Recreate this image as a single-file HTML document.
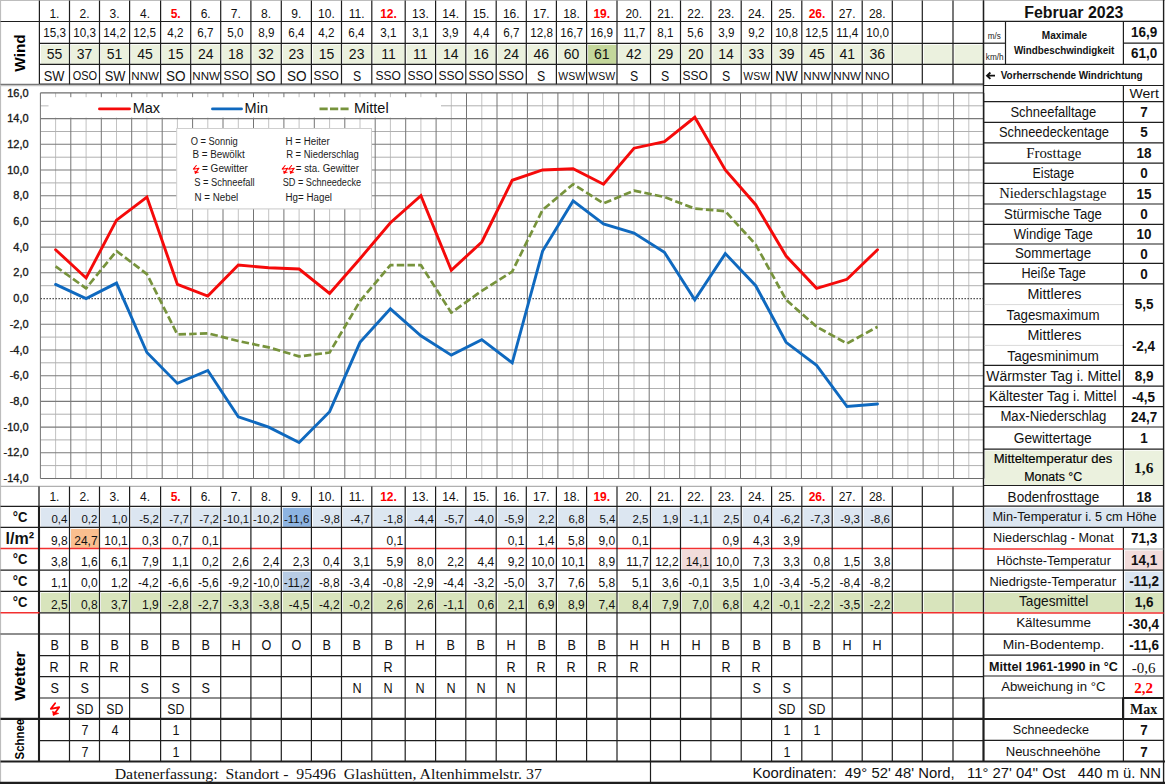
<!DOCTYPE html>
<html lang="de"><head><meta charset="utf-8"><title>Wetter Februar 2023</title>
<style>
html,body{margin:0;padding:0;background:#fff;}
#pg{position:relative;width:1165px;height:784px;overflow:hidden;background:#fff;font-family:"Liberation Sans",sans-serif;}
#pg svg{position:absolute;left:0;top:0;}
.t{position:absolute;white-space:nowrap;overflow:visible;margin:0;padding:0;}
</style></head><body>
<div id="pg">
<svg width="1165" height="784" viewBox="0 0 1165 784">
<rect x="40.9" y="44.8" width="28.1" height="19.1" fill="#ebf1de"/>
<rect x="71.0" y="44.8" width="28.0" height="19.1" fill="#ebf1de"/>
<rect x="101.0" y="44.8" width="28.1" height="19.1" fill="#ebf1de"/>
<rect x="131.1" y="44.8" width="29.0" height="19.1" fill="#ebf1de"/>
<rect x="162.1" y="44.8" width="28.1" height="19.1" fill="#ebf1de"/>
<rect x="192.2" y="44.8" width="28.0" height="19.1" fill="#ebf1de"/>
<rect x="222.2" y="44.8" width="28.2" height="19.1" fill="#ebf1de"/>
<rect x="252.4" y="44.8" width="28.4" height="19.1" fill="#ebf1de"/>
<rect x="282.8" y="44.8" width="28.1" height="19.1" fill="#ebf1de"/>
<rect x="312.9" y="44.8" width="28.1" height="19.1" fill="#ebf1de"/>
<rect x="343.0" y="44.8" width="28.3" height="19.1" fill="#ebf1de"/>
<rect x="373.3" y="44.8" width="31.4" height="19.1" fill="#ebf1de"/>
<rect x="406.7" y="44.8" width="28.4" height="19.1" fill="#ebf1de"/>
<rect x="437.1" y="44.8" width="28.2" height="19.1" fill="#ebf1de"/>
<rect x="467.3" y="44.8" width="28.4" height="19.1" fill="#ebf1de"/>
<rect x="497.7" y="44.8" width="28.1" height="19.1" fill="#ebf1de"/>
<rect x="527.8" y="44.8" width="28.1" height="19.1" fill="#ebf1de"/>
<rect x="557.9" y="44.8" width="28.2" height="19.1" fill="#ebf1de"/>
<rect x="588.1" y="44.8" width="28.4" height="19.1" fill="#c4d79b"/>
<rect x="618.5" y="44.8" width="31.5" height="19.1" fill="#ebf1de"/>
<rect x="652.0" y="44.8" width="28.0" height="19.1" fill="#ebf1de"/>
<rect x="682.0" y="44.8" width="28.4" height="19.1" fill="#ebf1de"/>
<rect x="712.4" y="44.8" width="28.3" height="19.1" fill="#ebf1de"/>
<rect x="742.7" y="44.8" width="28.4" height="19.1" fill="#ebf1de"/>
<rect x="773.1" y="44.8" width="28.2" height="19.1" fill="#ebf1de"/>
<rect x="803.3" y="44.8" width="28.4" height="19.1" fill="#ebf1de"/>
<rect x="833.7" y="44.8" width="28.0" height="19.1" fill="#ebf1de"/>
<rect x="863.7" y="44.8" width="28.1" height="19.1" fill="#ebf1de"/>
<rect x="893.8" y="44.8" width="28.0" height="19.1" fill="#ebf1de"/>
<rect x="923.8" y="44.8" width="28.7" height="19.1" fill="#ebf1de"/>
<rect x="954.5" y="44.8" width="28.5" height="19.1" fill="#ebf1de"/>
<line x1="0.0" y1="0.5" x2="1165.0" y2="0.5" stroke="#bdbdbd" stroke-width="1" />
<line x1="0.5" y1="0.0" x2="0.5" y2="784.0" stroke="#bdbdbd" stroke-width="1.2" />
<line x1="39.4" y1="0.5" x2="39.4" y2="84.3" stroke="#1e1e1e" stroke-width="1.2" />
<line x1="69.5" y1="0.5" x2="69.5" y2="84.3" stroke="#1e1e1e" stroke-width="1.2" />
<line x1="99.5" y1="0.5" x2="99.5" y2="84.3" stroke="#1e1e1e" stroke-width="1.2" />
<line x1="129.6" y1="0.5" x2="129.6" y2="84.3" stroke="#1e1e1e" stroke-width="1.2" />
<line x1="160.6" y1="0.5" x2="160.6" y2="84.3" stroke="#1e1e1e" stroke-width="1.2" />
<line x1="190.7" y1="0.5" x2="190.7" y2="84.3" stroke="#1e1e1e" stroke-width="1.2" />
<line x1="220.7" y1="0.5" x2="220.7" y2="84.3" stroke="#1e1e1e" stroke-width="1.2" />
<line x1="250.9" y1="0.5" x2="250.9" y2="84.3" stroke="#1e1e1e" stroke-width="1.2" />
<line x1="281.3" y1="0.5" x2="281.3" y2="84.3" stroke="#1e1e1e" stroke-width="1.2" />
<line x1="311.4" y1="0.5" x2="311.4" y2="84.3" stroke="#1e1e1e" stroke-width="1.2" />
<line x1="341.5" y1="0.5" x2="341.5" y2="84.3" stroke="#1e1e1e" stroke-width="1.2" />
<line x1="371.8" y1="0.5" x2="371.8" y2="84.3" stroke="#1e1e1e" stroke-width="1.2" />
<line x1="405.2" y1="0.5" x2="405.2" y2="84.3" stroke="#1e1e1e" stroke-width="1.2" />
<line x1="435.6" y1="0.5" x2="435.6" y2="84.3" stroke="#1e1e1e" stroke-width="1.2" />
<line x1="465.8" y1="0.5" x2="465.8" y2="84.3" stroke="#1e1e1e" stroke-width="1.2" />
<line x1="496.2" y1="0.5" x2="496.2" y2="84.3" stroke="#1e1e1e" stroke-width="1.2" />
<line x1="526.3" y1="0.5" x2="526.3" y2="84.3" stroke="#1e1e1e" stroke-width="1.2" />
<line x1="556.4" y1="0.5" x2="556.4" y2="84.3" stroke="#1e1e1e" stroke-width="1.2" />
<line x1="586.6" y1="0.5" x2="586.6" y2="84.3" stroke="#1e1e1e" stroke-width="1.2" />
<line x1="617.0" y1="0.5" x2="617.0" y2="84.3" stroke="#1e1e1e" stroke-width="1.2" />
<line x1="650.5" y1="0.5" x2="650.5" y2="84.3" stroke="#1e1e1e" stroke-width="1.2" />
<line x1="680.5" y1="0.5" x2="680.5" y2="84.3" stroke="#1e1e1e" stroke-width="1.2" />
<line x1="710.9" y1="0.5" x2="710.9" y2="84.3" stroke="#1e1e1e" stroke-width="1.2" />
<line x1="741.2" y1="0.5" x2="741.2" y2="84.3" stroke="#1e1e1e" stroke-width="1.2" />
<line x1="771.6" y1="0.5" x2="771.6" y2="84.3" stroke="#1e1e1e" stroke-width="1.2" />
<line x1="801.8" y1="0.5" x2="801.8" y2="84.3" stroke="#1e1e1e" stroke-width="1.2" />
<line x1="832.2" y1="0.5" x2="832.2" y2="84.3" stroke="#1e1e1e" stroke-width="1.2" />
<line x1="862.2" y1="0.5" x2="862.2" y2="84.3" stroke="#1e1e1e" stroke-width="1.2" />
<line x1="892.3" y1="0.5" x2="892.3" y2="84.3" stroke="#1e1e1e" stroke-width="1.2" />
<line x1="922.3" y1="0.5" x2="922.3" y2="84.3" stroke="#1e1e1e" stroke-width="1.2" />
<line x1="953.0" y1="0.5" x2="953.0" y2="84.3" stroke="#1e1e1e" stroke-width="1.2" />
<line x1="983.5" y1="0.5" x2="983.5" y2="84.3" stroke="#1e1e1e" stroke-width="1.2" />
<line x1="0.5" y1="21.5" x2="983.5" y2="21.5" stroke="#1e1e1e" stroke-width="1.2" />
<line x1="39.4" y1="43.3" x2="983.5" y2="43.3" stroke="#1e1e1e" stroke-width="1.2" />
<line x1="39.4" y1="64.4" x2="983.5" y2="64.4" stroke="#1e1e1e" stroke-width="1.2" />
<line x1="39.4" y1="84.2" x2="983.5" y2="84.2" stroke="#333" stroke-width="1.2" />
<line x1="0.5" y1="84.3" x2="39.4" y2="84.3" stroke="#777" stroke-width="1.2" />
<line x1="0.5" y1="85.6" x2="983.5" y2="85.6" stroke="#c4c4c4" stroke-width="1.1" />
<line x1="55.6" y1="92.9" x2="55.6" y2="478.5" stroke="#c2c2c2" stroke-width="1.0" />
<line x1="86.1" y1="92.9" x2="86.1" y2="478.5" stroke="#c2c2c2" stroke-width="1.0" />
<line x1="116.5" y1="92.9" x2="116.5" y2="478.5" stroke="#c2c2c2" stroke-width="1.0" />
<line x1="146.9" y1="92.9" x2="146.9" y2="478.5" stroke="#c2c2c2" stroke-width="1.0" />
<line x1="177.4" y1="92.9" x2="177.4" y2="478.5" stroke="#c2c2c2" stroke-width="1.0" />
<line x1="207.8" y1="92.9" x2="207.8" y2="478.5" stroke="#c2c2c2" stroke-width="1.0" />
<line x1="238.3" y1="92.9" x2="238.3" y2="478.5" stroke="#c2c2c2" stroke-width="1.0" />
<line x1="268.7" y1="92.9" x2="268.7" y2="478.5" stroke="#c2c2c2" stroke-width="1.0" />
<line x1="299.1" y1="92.9" x2="299.1" y2="478.5" stroke="#c2c2c2" stroke-width="1.0" />
<line x1="329.6" y1="92.9" x2="329.6" y2="478.5" stroke="#c2c2c2" stroke-width="1.0" />
<line x1="360.0" y1="92.9" x2="360.0" y2="478.5" stroke="#c2c2c2" stroke-width="1.0" />
<line x1="390.4" y1="92.9" x2="390.4" y2="478.5" stroke="#c2c2c2" stroke-width="1.0" />
<line x1="420.9" y1="92.9" x2="420.9" y2="478.5" stroke="#c2c2c2" stroke-width="1.0" />
<line x1="451.3" y1="92.9" x2="451.3" y2="478.5" stroke="#c2c2c2" stroke-width="1.0" />
<line x1="481.8" y1="92.9" x2="481.8" y2="478.5" stroke="#c2c2c2" stroke-width="1.0" />
<line x1="512.2" y1="92.9" x2="512.2" y2="478.5" stroke="#c2c2c2" stroke-width="1.0" />
<line x1="542.6" y1="92.9" x2="542.6" y2="478.5" stroke="#c2c2c2" stroke-width="1.0" />
<line x1="573.1" y1="92.9" x2="573.1" y2="478.5" stroke="#c2c2c2" stroke-width="1.0" />
<line x1="603.5" y1="92.9" x2="603.5" y2="478.5" stroke="#c2c2c2" stroke-width="1.0" />
<line x1="634.0" y1="92.9" x2="634.0" y2="478.5" stroke="#c2c2c2" stroke-width="1.0" />
<line x1="664.4" y1="92.9" x2="664.4" y2="478.5" stroke="#c2c2c2" stroke-width="1.0" />
<line x1="694.8" y1="92.9" x2="694.8" y2="478.5" stroke="#c2c2c2" stroke-width="1.0" />
<line x1="725.3" y1="92.9" x2="725.3" y2="478.5" stroke="#c2c2c2" stroke-width="1.0" />
<line x1="755.7" y1="92.9" x2="755.7" y2="478.5" stroke="#c2c2c2" stroke-width="1.0" />
<line x1="786.1" y1="92.9" x2="786.1" y2="478.5" stroke="#c2c2c2" stroke-width="1.0" />
<line x1="816.6" y1="92.9" x2="816.6" y2="478.5" stroke="#c2c2c2" stroke-width="1.0" />
<line x1="847.0" y1="92.9" x2="847.0" y2="478.5" stroke="#c2c2c2" stroke-width="1.0" />
<line x1="877.5" y1="92.9" x2="877.5" y2="478.5" stroke="#c2c2c2" stroke-width="1.0" />
<line x1="907.9" y1="92.9" x2="907.9" y2="478.5" stroke="#c2c2c2" stroke-width="1.0" />
<line x1="938.3" y1="92.9" x2="938.3" y2="478.5" stroke="#c2c2c2" stroke-width="1.0" />
<line x1="968.8" y1="92.9" x2="968.8" y2="478.5" stroke="#c2c2c2" stroke-width="1.0" />
<line x1="40.4" y1="105.8" x2="984.0" y2="105.8" stroke="#b0b0b0" stroke-width="1.0" />
<line x1="40.4" y1="131.5" x2="984.0" y2="131.5" stroke="#b0b0b0" stroke-width="1.0" />
<line x1="40.4" y1="157.2" x2="984.0" y2="157.2" stroke="#b0b0b0" stroke-width="1.0" />
<line x1="40.4" y1="182.9" x2="984.0" y2="182.9" stroke="#b0b0b0" stroke-width="1.0" />
<line x1="40.4" y1="208.6" x2="984.0" y2="208.6" stroke="#b0b0b0" stroke-width="1.0" />
<line x1="40.4" y1="234.3" x2="984.0" y2="234.3" stroke="#b0b0b0" stroke-width="1.0" />
<line x1="40.4" y1="260.0" x2="984.0" y2="260.0" stroke="#b0b0b0" stroke-width="1.0" />
<line x1="40.4" y1="285.7" x2="984.0" y2="285.7" stroke="#b0b0b0" stroke-width="1.0" />
<line x1="40.4" y1="311.4" x2="984.0" y2="311.4" stroke="#b0b0b0" stroke-width="1.0" />
<line x1="40.4" y1="337.1" x2="984.0" y2="337.1" stroke="#b0b0b0" stroke-width="1.0" />
<line x1="40.4" y1="362.8" x2="984.0" y2="362.8" stroke="#b0b0b0" stroke-width="1.0" />
<line x1="40.4" y1="388.5" x2="984.0" y2="388.5" stroke="#b0b0b0" stroke-width="1.0" />
<line x1="40.4" y1="414.2" x2="984.0" y2="414.2" stroke="#b0b0b0" stroke-width="1.0" />
<line x1="40.4" y1="439.9" x2="984.0" y2="439.9" stroke="#b0b0b0" stroke-width="1.0" />
<line x1="40.4" y1="465.6" x2="984.0" y2="465.6" stroke="#b0b0b0" stroke-width="1.0" />
<line x1="40.4" y1="92.9" x2="40.4" y2="478.5" stroke="#747474" stroke-width="1.0" />
<line x1="70.8" y1="92.9" x2="70.8" y2="478.5" stroke="#747474" stroke-width="1.0" />
<line x1="101.3" y1="92.9" x2="101.3" y2="478.5" stroke="#747474" stroke-width="1.0" />
<line x1="131.7" y1="92.9" x2="131.7" y2="478.5" stroke="#747474" stroke-width="1.0" />
<line x1="162.2" y1="92.9" x2="162.2" y2="478.5" stroke="#747474" stroke-width="1.0" />
<line x1="192.6" y1="92.9" x2="192.6" y2="478.5" stroke="#747474" stroke-width="1.0" />
<line x1="223.0" y1="92.9" x2="223.0" y2="478.5" stroke="#747474" stroke-width="1.0" />
<line x1="253.5" y1="92.9" x2="253.5" y2="478.5" stroke="#747474" stroke-width="1.0" />
<line x1="283.9" y1="92.9" x2="283.9" y2="478.5" stroke="#747474" stroke-width="1.0" />
<line x1="314.3" y1="92.9" x2="314.3" y2="478.5" stroke="#747474" stroke-width="1.0" />
<line x1="344.8" y1="92.9" x2="344.8" y2="478.5" stroke="#747474" stroke-width="1.0" />
<line x1="375.2" y1="92.9" x2="375.2" y2="478.5" stroke="#747474" stroke-width="1.0" />
<line x1="405.7" y1="92.9" x2="405.7" y2="478.5" stroke="#747474" stroke-width="1.0" />
<line x1="436.1" y1="92.9" x2="436.1" y2="478.5" stroke="#747474" stroke-width="1.0" />
<line x1="466.5" y1="92.9" x2="466.5" y2="478.5" stroke="#747474" stroke-width="1.0" />
<line x1="497.0" y1="92.9" x2="497.0" y2="478.5" stroke="#747474" stroke-width="1.0" />
<line x1="527.4" y1="92.9" x2="527.4" y2="478.5" stroke="#747474" stroke-width="1.0" />
<line x1="557.9" y1="92.9" x2="557.9" y2="478.5" stroke="#747474" stroke-width="1.0" />
<line x1="588.3" y1="92.9" x2="588.3" y2="478.5" stroke="#747474" stroke-width="1.0" />
<line x1="618.7" y1="92.9" x2="618.7" y2="478.5" stroke="#747474" stroke-width="1.0" />
<line x1="649.2" y1="92.9" x2="649.2" y2="478.5" stroke="#747474" stroke-width="1.0" />
<line x1="679.6" y1="92.9" x2="679.6" y2="478.5" stroke="#747474" stroke-width="1.0" />
<line x1="710.1" y1="92.9" x2="710.1" y2="478.5" stroke="#747474" stroke-width="1.0" />
<line x1="740.5" y1="92.9" x2="740.5" y2="478.5" stroke="#747474" stroke-width="1.0" />
<line x1="770.9" y1="92.9" x2="770.9" y2="478.5" stroke="#747474" stroke-width="1.0" />
<line x1="801.4" y1="92.9" x2="801.4" y2="478.5" stroke="#747474" stroke-width="1.0" />
<line x1="831.8" y1="92.9" x2="831.8" y2="478.5" stroke="#747474" stroke-width="1.0" />
<line x1="862.2" y1="92.9" x2="862.2" y2="478.5" stroke="#747474" stroke-width="1.0" />
<line x1="892.7" y1="92.9" x2="892.7" y2="478.5" stroke="#747474" stroke-width="1.0" />
<line x1="923.1" y1="92.9" x2="923.1" y2="478.5" stroke="#747474" stroke-width="1.0" />
<line x1="953.6" y1="92.9" x2="953.6" y2="478.5" stroke="#747474" stroke-width="1.0" />
<line x1="984.0" y1="92.9" x2="984.0" y2="478.5" stroke="#747474" stroke-width="1.0" />
<line x1="40.4" y1="92.9" x2="984.0" y2="92.9" stroke="#6e6e6e" stroke-width="1.1" />
<line x1="40.4" y1="118.6" x2="984.0" y2="118.6" stroke="#7a7a7a" stroke-width="1.1" />
<line x1="40.4" y1="144.3" x2="984.0" y2="144.3" stroke="#7a7a7a" stroke-width="1.1" />
<line x1="40.4" y1="170.0" x2="984.0" y2="170.0" stroke="#7a7a7a" stroke-width="1.1" />
<line x1="40.4" y1="195.7" x2="984.0" y2="195.7" stroke="#7a7a7a" stroke-width="1.1" />
<line x1="40.4" y1="221.4" x2="984.0" y2="221.4" stroke="#7a7a7a" stroke-width="1.1" />
<line x1="40.4" y1="247.1" x2="984.0" y2="247.1" stroke="#7a7a7a" stroke-width="1.1" />
<line x1="40.4" y1="272.8" x2="984.0" y2="272.8" stroke="#7a7a7a" stroke-width="1.1" />
<line x1="40.4" y1="324.3" x2="984.0" y2="324.3" stroke="#7a7a7a" stroke-width="1.1" />
<line x1="40.4" y1="350.0" x2="984.0" y2="350.0" stroke="#7a7a7a" stroke-width="1.1" />
<line x1="40.4" y1="375.7" x2="984.0" y2="375.7" stroke="#7a7a7a" stroke-width="1.1" />
<line x1="40.4" y1="401.4" x2="984.0" y2="401.4" stroke="#7a7a7a" stroke-width="1.1" />
<line x1="40.4" y1="427.1" x2="984.0" y2="427.1" stroke="#7a7a7a" stroke-width="1.1" />
<line x1="40.4" y1="452.8" x2="984.0" y2="452.8" stroke="#7a7a7a" stroke-width="1.1" />
<line x1="40.4" y1="478.5" x2="984.0" y2="478.5" stroke="#6e6e6e" stroke-width="1.1" />
<line x1="40.4" y1="298.6" x2="984.0" y2="298.6" stroke="#555" stroke-width="1.1" stroke-dasharray="1.6 1.4"/>
<rect x="48.5" y="97.2" width="392.5" height="20.4" fill="#fff"/>
<rect x="41.2" y="97.2" width="7.8" height="8.0" fill="#fff"/>
<rect x="41.2" y="107.0" width="7.8" height="10.6" fill="#fff"/>
<rect x="176.7" y="128.5" width="194.8" height="80.4" fill="#fff" stroke="#cfcfcf" stroke-width="1"/>
<polyline points="55.6,266.4 86.1,288.3 116.5,251.0 146.9,274.1 177.4,334.5 207.8,333.3 238.3,341.0 268.7,347.4 299.1,356.4 329.6,352.5 360.0,301.1 390.4,265.1 420.9,265.1 451.3,312.7 481.8,290.8 512.2,271.6 542.6,209.9 573.1,184.2 603.5,203.4 634.0,190.6 664.4,197.0 694.8,208.6 725.3,211.2 755.7,244.6 786.1,299.8 816.6,326.8 847.0,343.5 877.5,326.8" fill="none" stroke="#77933c" stroke-width="2.7" stroke-dasharray="7.5 3.2" stroke-linejoin="round"/>
<polyline points="55.6,284.4 86.1,298.6 116.5,283.1 146.9,352.5 177.4,383.4 207.8,370.5 238.3,416.8 268.7,427.1 299.1,442.5 329.6,411.7 360.0,342.3 390.4,308.8 420.9,335.8 451.3,355.1 481.8,339.7 512.2,362.8 542.6,251.0 573.1,200.9 603.5,224.0 634.0,233.0 664.4,252.3 694.8,299.8 725.3,253.6 755.7,285.7 786.1,342.3 816.6,365.4 847.0,406.5 877.5,404.0" fill="none" stroke="#0f69bf" stroke-width="2.9" stroke-linejoin="miter" stroke-miterlimit="3" stroke-linecap="round" />
<polyline points="55.6,249.7 86.1,278.0 116.5,220.1 146.9,197.0 177.4,284.4 207.8,296.0 238.3,265.1 268.7,267.7 299.1,269.0 329.6,293.4 360.0,258.7 390.4,222.7 420.9,195.7 451.3,270.3 481.8,242.0 512.2,180.3 542.6,170.0 573.1,168.7 603.5,184.2 634.0,148.2 664.4,141.7 694.8,117.3 725.3,170.0 755.7,204.7 786.1,256.1 816.6,288.3 847.0,279.3 877.5,249.7" fill="none" stroke="#f50a0a" stroke-width="2.9" stroke-linejoin="miter" stroke-miterlimit="3" stroke-linecap="round" />
<line x1="99.5" y1="108.9" x2="129.5" y2="108.9" stroke="#f50a0a" stroke-width="2.9" stroke-linecap="round"/>
<line x1="212.5" y1="108.9" x2="241.5" y2="108.9" stroke="#0f69bf" stroke-width="2.9" stroke-linecap="round"/>
<line x1="319.5" y1="108.9" x2="348.6" y2="108.9" stroke="#77933c" stroke-width="2.7" stroke-dasharray="8.2 2.3"/>
<path d="M196.29,165.46 L193.41,169.18 L198.99,168.16 L195.27,173.20" fill="none" stroke="#f00" stroke-width="1.05" stroke-linejoin="round" stroke-linecap="round"/>
<path d="M194.43,170.86 L195.15,173.44 L198.75,172.30Z" fill="#f00" stroke="#f00" stroke-width="0.36" stroke-linejoin="round"/>
<path d="M285.09,165.46 L282.21,169.18 L287.79,168.16 L284.07,173.20" fill="none" stroke="#f00" stroke-width="1.05" stroke-linejoin="round" stroke-linecap="round"/>
<path d="M283.23,170.86 L283.95,173.44 L287.55,172.30Z" fill="#f00" stroke="#f00" stroke-width="0.36" stroke-linejoin="round"/>
<path d="M291.59,165.46 L288.71,169.18 L294.29,168.16 L290.57,173.20" fill="none" stroke="#f00" stroke-width="1.05" stroke-linejoin="round" stroke-linecap="round"/>
<path d="M289.73,170.86 L290.45,173.44 L294.05,172.30Z" fill="#f00" stroke="#f00" stroke-width="0.36" stroke-linejoin="round"/>
<line x1="0.5" y1="486.4" x2="983.5" y2="486.4" stroke="#b0b0b0" stroke-width="1.1" />
<rect x="40.9" y="507.8" width="28.1" height="19.1" fill="#dce6f1"/>
<rect x="71.0" y="507.8" width="28.0" height="19.1" fill="#dce6f1"/>
<rect x="101.0" y="507.8" width="28.1" height="19.1" fill="#dce6f1"/>
<rect x="131.1" y="507.8" width="29.0" height="19.1" fill="#dce6f1"/>
<rect x="162.1" y="507.8" width="28.1" height="19.1" fill="#dce6f1"/>
<rect x="192.2" y="507.8" width="28.0" height="19.1" fill="#dce6f1"/>
<rect x="222.2" y="507.8" width="28.2" height="19.1" fill="#dce6f1"/>
<rect x="252.4" y="507.8" width="28.4" height="19.1" fill="#dce6f1"/>
<rect x="282.8" y="507.8" width="28.1" height="19.1" fill="#8db4e2"/>
<rect x="312.9" y="507.8" width="28.1" height="19.1" fill="#dce6f1"/>
<rect x="343.0" y="507.8" width="28.3" height="19.1" fill="#dce6f1"/>
<rect x="373.3" y="507.8" width="31.4" height="19.1" fill="#dce6f1"/>
<rect x="406.7" y="507.8" width="28.4" height="19.1" fill="#dce6f1"/>
<rect x="437.1" y="507.8" width="28.2" height="19.1" fill="#dce6f1"/>
<rect x="467.3" y="507.8" width="28.4" height="19.1" fill="#dce6f1"/>
<rect x="497.7" y="507.8" width="28.1" height="19.1" fill="#dce6f1"/>
<rect x="527.8" y="507.8" width="28.1" height="19.1" fill="#dce6f1"/>
<rect x="557.9" y="507.8" width="28.2" height="19.1" fill="#dce6f1"/>
<rect x="588.1" y="507.8" width="28.4" height="19.1" fill="#dce6f1"/>
<rect x="618.5" y="507.8" width="31.5" height="19.1" fill="#dce6f1"/>
<rect x="652.0" y="507.8" width="28.0" height="19.1" fill="#dce6f1"/>
<rect x="682.0" y="507.8" width="28.4" height="19.1" fill="#dce6f1"/>
<rect x="712.4" y="507.8" width="28.3" height="19.1" fill="#dce6f1"/>
<rect x="742.7" y="507.8" width="28.4" height="19.1" fill="#dce6f1"/>
<rect x="773.1" y="507.8" width="28.2" height="19.1" fill="#dce6f1"/>
<rect x="803.3" y="507.8" width="28.4" height="19.1" fill="#dce6f1"/>
<rect x="833.7" y="507.8" width="28.0" height="19.1" fill="#dce6f1"/>
<rect x="863.7" y="507.8" width="28.1" height="19.1" fill="#dce6f1"/>
<rect x="71.0" y="528.9" width="28.0" height="19.0" fill="#fabf8f"/>
<rect x="682.0" y="549.9" width="28.4" height="19.7" fill="#f2dcdb"/>
<rect x="282.8" y="571.6" width="28.1" height="19.2" fill="#b8cce4"/>
<rect x="40.9" y="592.8" width="28.1" height="19.5" fill="#d8e4bc"/>
<rect x="71.0" y="592.8" width="28.0" height="19.5" fill="#d8e4bc"/>
<rect x="101.0" y="592.8" width="28.1" height="19.5" fill="#d8e4bc"/>
<rect x="131.1" y="592.8" width="29.0" height="19.5" fill="#d8e4bc"/>
<rect x="162.1" y="592.8" width="28.1" height="19.5" fill="#d8e4bc"/>
<rect x="192.2" y="592.8" width="28.0" height="19.5" fill="#d8e4bc"/>
<rect x="222.2" y="592.8" width="28.2" height="19.5" fill="#d8e4bc"/>
<rect x="252.4" y="592.8" width="28.4" height="19.5" fill="#d8e4bc"/>
<rect x="282.8" y="592.8" width="28.1" height="19.5" fill="#d8e4bc"/>
<rect x="312.9" y="592.8" width="28.1" height="19.5" fill="#d8e4bc"/>
<rect x="343.0" y="592.8" width="28.3" height="19.5" fill="#d8e4bc"/>
<rect x="373.3" y="592.8" width="31.4" height="19.5" fill="#d8e4bc"/>
<rect x="406.7" y="592.8" width="28.4" height="19.5" fill="#d8e4bc"/>
<rect x="437.1" y="592.8" width="28.2" height="19.5" fill="#d8e4bc"/>
<rect x="467.3" y="592.8" width="28.4" height="19.5" fill="#d8e4bc"/>
<rect x="497.7" y="592.8" width="28.1" height="19.5" fill="#d8e4bc"/>
<rect x="527.8" y="592.8" width="28.1" height="19.5" fill="#d8e4bc"/>
<rect x="557.9" y="592.8" width="28.2" height="19.5" fill="#d8e4bc"/>
<rect x="588.1" y="592.8" width="28.4" height="19.5" fill="#d8e4bc"/>
<rect x="618.5" y="592.8" width="31.5" height="19.5" fill="#d8e4bc"/>
<rect x="652.0" y="592.8" width="28.0" height="19.5" fill="#d8e4bc"/>
<rect x="682.0" y="592.8" width="28.4" height="19.5" fill="#d8e4bc"/>
<rect x="712.4" y="592.8" width="28.3" height="19.5" fill="#d8e4bc"/>
<rect x="742.7" y="592.8" width="28.4" height="19.5" fill="#d8e4bc"/>
<rect x="773.1" y="592.8" width="28.2" height="19.5" fill="#d8e4bc"/>
<rect x="803.3" y="592.8" width="28.4" height="19.5" fill="#d8e4bc"/>
<rect x="833.7" y="592.8" width="28.0" height="19.5" fill="#d8e4bc"/>
<rect x="863.7" y="592.8" width="28.1" height="19.5" fill="#d8e4bc"/>
<rect x="893.8" y="592.8" width="28.0" height="19.5" fill="#d8e4bc"/>
<rect x="923.8" y="592.8" width="28.7" height="19.5" fill="#d8e4bc"/>
<rect x="954.5" y="592.8" width="28.5" height="19.5" fill="#d8e4bc"/>
<line x1="0.5" y1="548.4" x2="983.5" y2="548.4" stroke="#f23030" stroke-width="1.5" />
<line x1="39.0" y1="486.4" x2="39.0" y2="506.3" stroke="#1e1e1e" stroke-width="1.3" />
<line x1="39.0" y1="506.3" x2="39.0" y2="761.5" stroke="#1e1e1e" stroke-width="2.1" />
<line x1="69.5" y1="486.4" x2="69.5" y2="761.5" stroke="#1e1e1e" stroke-width="1.2" />
<line x1="99.5" y1="486.4" x2="99.5" y2="761.5" stroke="#1e1e1e" stroke-width="1.2" />
<line x1="129.6" y1="486.4" x2="129.6" y2="761.5" stroke="#1e1e1e" stroke-width="1.2" />
<line x1="160.6" y1="486.4" x2="160.6" y2="761.5" stroke="#1e1e1e" stroke-width="1.2" />
<line x1="190.7" y1="486.4" x2="190.7" y2="761.5" stroke="#1e1e1e" stroke-width="1.2" />
<line x1="220.7" y1="486.4" x2="220.7" y2="761.5" stroke="#1e1e1e" stroke-width="1.2" />
<line x1="250.9" y1="486.4" x2="250.9" y2="761.5" stroke="#1e1e1e" stroke-width="1.2" />
<line x1="281.3" y1="486.4" x2="281.3" y2="761.5" stroke="#1e1e1e" stroke-width="1.2" />
<line x1="311.4" y1="486.4" x2="311.4" y2="761.5" stroke="#1e1e1e" stroke-width="1.2" />
<line x1="341.5" y1="486.4" x2="341.5" y2="761.5" stroke="#1e1e1e" stroke-width="1.2" />
<line x1="371.8" y1="486.4" x2="371.8" y2="761.5" stroke="#1e1e1e" stroke-width="1.2" />
<line x1="405.2" y1="486.4" x2="405.2" y2="761.5" stroke="#1e1e1e" stroke-width="1.2" />
<line x1="435.6" y1="486.4" x2="435.6" y2="761.5" stroke="#1e1e1e" stroke-width="1.2" />
<line x1="465.8" y1="486.4" x2="465.8" y2="761.5" stroke="#1e1e1e" stroke-width="1.2" />
<line x1="496.2" y1="486.4" x2="496.2" y2="761.5" stroke="#1e1e1e" stroke-width="1.2" />
<line x1="526.3" y1="486.4" x2="526.3" y2="761.5" stroke="#1e1e1e" stroke-width="1.2" />
<line x1="556.4" y1="486.4" x2="556.4" y2="761.5" stroke="#1e1e1e" stroke-width="1.2" />
<line x1="586.6" y1="486.4" x2="586.6" y2="761.5" stroke="#1e1e1e" stroke-width="1.2" />
<line x1="617.0" y1="486.4" x2="617.0" y2="761.5" stroke="#1e1e1e" stroke-width="1.2" />
<line x1="650.5" y1="486.4" x2="650.5" y2="761.5" stroke="#1e1e1e" stroke-width="1.2" />
<line x1="680.5" y1="486.4" x2="680.5" y2="761.5" stroke="#1e1e1e" stroke-width="1.2" />
<line x1="710.9" y1="486.4" x2="710.9" y2="761.5" stroke="#1e1e1e" stroke-width="1.2" />
<line x1="741.2" y1="486.4" x2="741.2" y2="761.5" stroke="#1e1e1e" stroke-width="1.2" />
<line x1="771.6" y1="486.4" x2="771.6" y2="761.5" stroke="#1e1e1e" stroke-width="1.2" />
<line x1="801.8" y1="486.4" x2="801.8" y2="761.5" stroke="#1e1e1e" stroke-width="1.2" />
<line x1="832.2" y1="486.4" x2="832.2" y2="761.5" stroke="#1e1e1e" stroke-width="1.2" />
<line x1="862.2" y1="486.4" x2="862.2" y2="761.5" stroke="#1e1e1e" stroke-width="1.2" />
<line x1="892.3" y1="486.4" x2="892.3" y2="761.5" stroke="#1e1e1e" stroke-width="1.2" />
<line x1="922.3" y1="486.4" x2="922.3" y2="761.5" stroke="#1e1e1e" stroke-width="1.2" />
<line x1="953.0" y1="486.4" x2="953.0" y2="761.5" stroke="#1e1e1e" stroke-width="1.2" />
<line x1="0.5" y1="506.3" x2="983.5" y2="506.3" stroke="#1e1e1e" stroke-width="1.2" />
<line x1="0.5" y1="527.4" x2="983.5" y2="527.4" stroke="#1e1e1e" stroke-width="1.2" />
<line x1="0.5" y1="570.1" x2="983.5" y2="570.1" stroke="#1e1e1e" stroke-width="1.2" />
<line x1="0.5" y1="591.3" x2="983.5" y2="591.3" stroke="#1e1e1e" stroke-width="1.2" />
<line x1="39.4" y1="612.8" x2="892.3" y2="612.8" stroke="#1e1e1e" stroke-width="1.2" />
<line x1="0.5" y1="612.8" x2="39.4" y2="612.8" stroke="#f23030" stroke-width="1.5" />
<line x1="892.3" y1="612.8" x2="983.5" y2="612.8" stroke="#f23030" stroke-width="1.5" />
<line x1="0.5" y1="634.0" x2="983.5" y2="634.0" stroke="#1e1e1e" stroke-width="1.2" />
<line x1="39.4" y1="655.6" x2="983.5" y2="655.6" stroke="#1e1e1e" stroke-width="1.2" />
<line x1="39.4" y1="676.7" x2="983.5" y2="676.7" stroke="#1e1e1e" stroke-width="1.2" />
<line x1="39.4" y1="698.0" x2="983.5" y2="698.0" stroke="#1e1e1e" stroke-width="1.2" />
<line x1="0.5" y1="718.8" x2="983.5" y2="718.8" stroke="#1e1e1e" stroke-width="2.2" />
<line x1="39.4" y1="740.6" x2="983.5" y2="740.6" stroke="#1e1e1e" stroke-width="1.2" />
<line x1="0.5" y1="761.5" x2="1165.0" y2="761.5" stroke="#1e1e1e" stroke-width="2.2" />
<line x1="0.0" y1="783.0" x2="1165.0" y2="783.0" stroke="#1e1e1e" stroke-width="2.4" />
<line x1="650.5" y1="761.5" x2="650.5" y2="783.0" stroke="#1e1e1e" stroke-width="1.2" />
<path d="M55.14,703.19 L50.82,708.77 L59.19,707.24 L53.61,714.80" fill="none" stroke="#f00" stroke-width="1.8" stroke-linejoin="round" stroke-linecap="round"/>
<path d="M52.35,711.29 L53.43,715.16 L58.83,713.45Z" fill="#f00" stroke="#f00" stroke-width="0.54" stroke-linejoin="round"/>
<rect x="985.0" y="450.7" width="137.9" height="34.3" fill="#ebf1de"/>
<rect x="1124.9" y="450.7" width="38.2" height="34.3" fill="#ebf1de"/>
<rect x="985.0" y="507.7" width="178.1" height="19.2" fill="#dce6f1"/>
<rect x="1124.9" y="550.5" width="38.2" height="19.2" fill="#f2dcdb"/>
<rect x="1124.9" y="571.7" width="38.2" height="19.2" fill="#dce6f1"/>
<rect x="985.0" y="592.9" width="137.9" height="19.5" fill="#d8e4bc"/>
<rect x="1124.9" y="592.9" width="38.2" height="19.5" fill="#d8e4bc"/>
<line x1="983.5" y1="304.6" x2="1123.4" y2="304.6" stroke="#d9d9d9" stroke-width="1.0" />
<line x1="983.5" y1="345.4" x2="1123.4" y2="345.4" stroke="#d9d9d9" stroke-width="1.0" />
<line x1="983.5" y1="0.5" x2="983.5" y2="698.0" stroke="#1e1e1e" stroke-width="1.4" />
<line x1="983.5" y1="698.0" x2="983.5" y2="761.5" stroke="#1e1e1e" stroke-width="2.2" />
<line x1="1163.6" y1="0.0" x2="1163.6" y2="784.0" stroke="#1e1e1e" stroke-width="1.4" />
<line x1="1005.5" y1="21.3" x2="1005.5" y2="64.4" stroke="#1e1e1e" stroke-width="1.2" />
<line x1="1123.4" y1="21.3" x2="1123.4" y2="64.4" stroke="#1e1e1e" stroke-width="1.2" />
<line x1="1123.4" y1="85.5" x2="1123.4" y2="506.2" stroke="#1e1e1e" stroke-width="1.2" />
<line x1="1123.4" y1="527.4" x2="1123.4" y2="698.0" stroke="#1e1e1e" stroke-width="1.2" />
<line x1="1123.1" y1="698.0" x2="1123.1" y2="719.0" stroke="#1e1e1e" stroke-width="2.2" />
<line x1="1123.4" y1="719.0" x2="1123.4" y2="761.5" stroke="#1e1e1e" stroke-width="1.2" />
<line x1="983.5" y1="21.3" x2="1163.6" y2="21.3" stroke="#1e1e1e" stroke-width="1.2" />
<line x1="983.5" y1="43.2" x2="1005.5" y2="43.2" stroke="#1e1e1e" stroke-width="1.2" />
<line x1="1123.4" y1="43.2" x2="1163.6" y2="43.2" stroke="#1e1e1e" stroke-width="1.2" />
<line x1="983.5" y1="64.4" x2="1163.6" y2="64.4" stroke="#1e1e1e" stroke-width="1.2" />
<line x1="983.5" y1="85.5" x2="1163.6" y2="85.5" stroke="#1e1e1e" stroke-width="1.2" />
<line x1="983.5" y1="101.7" x2="1163.6" y2="101.7" stroke="#1e1e1e" stroke-width="1.2" />
<line x1="983.5" y1="122.4" x2="1163.6" y2="122.4" stroke="#1e1e1e" stroke-width="1.2" />
<line x1="983.5" y1="142.8" x2="1163.6" y2="142.8" stroke="#1e1e1e" stroke-width="1.2" />
<line x1="983.5" y1="163.2" x2="1163.6" y2="163.2" stroke="#1e1e1e" stroke-width="1.2" />
<line x1="983.5" y1="183.3" x2="1163.6" y2="183.3" stroke="#1e1e1e" stroke-width="1.2" />
<line x1="983.5" y1="204.0" x2="1163.6" y2="204.0" stroke="#1e1e1e" stroke-width="1.2" />
<line x1="983.5" y1="224.4" x2="1163.6" y2="224.4" stroke="#1e1e1e" stroke-width="1.2" />
<line x1="983.5" y1="244.0" x2="1163.6" y2="244.0" stroke="#1e1e1e" stroke-width="1.2" />
<line x1="983.5" y1="263.4" x2="1163.6" y2="263.4" stroke="#1e1e1e" stroke-width="1.2" />
<line x1="983.5" y1="283.9" x2="1163.6" y2="283.9" stroke="#1e1e1e" stroke-width="1.2" />
<line x1="983.5" y1="324.7" x2="1163.6" y2="324.7" stroke="#1e1e1e" stroke-width="1.2" />
<line x1="983.5" y1="365.3" x2="1163.6" y2="365.3" stroke="#1e1e1e" stroke-width="1.2" />
<line x1="983.5" y1="386.2" x2="1163.6" y2="386.2" stroke="#1e1e1e" stroke-width="1.2" />
<line x1="983.5" y1="406.6" x2="1163.6" y2="406.6" stroke="#1e1e1e" stroke-width="1.2" />
<line x1="983.5" y1="427.0" x2="1163.6" y2="427.0" stroke="#1e1e1e" stroke-width="1.2" />
<line x1="983.5" y1="449.2" x2="1163.6" y2="449.2" stroke="#1e1e1e" stroke-width="1.2" />
<line x1="983.5" y1="485.5" x2="1163.6" y2="485.5" stroke="#1e1e1e" stroke-width="1.2" />
<line x1="983.5" y1="506.2" x2="1163.6" y2="506.2" stroke="#1e1e1e" stroke-width="1.2" />
<line x1="983.5" y1="527.4" x2="1163.6" y2="527.4" stroke="#1e1e1e" stroke-width="1.2" />
<line x1="983.5" y1="549.0" x2="1123.4" y2="549.0" stroke="#f23030" stroke-width="1.5" />
<line x1="1123.4" y1="549.0" x2="1163.6" y2="549.0" stroke="#999" stroke-width="1.0" />
<line x1="983.5" y1="570.2" x2="1163.6" y2="570.2" stroke="#1e1e1e" stroke-width="1.2" />
<line x1="983.5" y1="591.4" x2="1163.6" y2="591.4" stroke="#1e1e1e" stroke-width="1.2" />
<line x1="983.5" y1="612.9" x2="1163.6" y2="612.9" stroke="#f23030" stroke-width="1.5" />
<line x1="983.5" y1="634.1" x2="1163.6" y2="634.1" stroke="#1e1e1e" stroke-width="1.2" />
<line x1="983.5" y1="655.2" x2="1163.6" y2="655.2" stroke="#1e1e1e" stroke-width="1.2" />
<line x1="983.5" y1="676.0" x2="1163.6" y2="676.0" stroke="#1e1e1e" stroke-width="1.2" />
<line x1="983.5" y1="698.0" x2="1123.4" y2="698.0" stroke="#1e1e1e" stroke-width="1.2" />
<line x1="1122.4" y1="698.0" x2="1163.6" y2="698.0" stroke="#1e1e1e" stroke-width="2.0" />
<line x1="983.5" y1="719.0" x2="1163.6" y2="719.0" stroke="#1e1e1e" stroke-width="2.2" />
<line x1="983.5" y1="740.3" x2="1163.6" y2="740.3" stroke="#1e1e1e" stroke-width="1.2" />
<path d="M995.0,75.7 H987.4 M990.4,72.5 L987.0,75.7 L990.4,78.9" fill="none" stroke="#111" stroke-width="1.8" stroke-linejoin="miter"/>
</svg>
<div class="t" style="left:39.4px;width:30.1px;top:6.8px;height:14.4px;line-height:14.4px;font-size:12px;font-family:'Liberation Sans',sans-serif;color:#111;text-align:center;">1.</div>
<div class="t" style="left:34.4px;width:40.1px;top:26.2px;height:14.4px;line-height:14.4px;font-size:12px;font-family:'Liberation Sans',sans-serif;color:#111;text-align:center;"><span style="display:inline-block;transform:scaleX(0.97);transform-origin:center center;">15,3</span></div>
<div class="t" style="left:39.4px;width:30.1px;top:46.2px;height:16.8px;line-height:16.8px;font-size:14px;font-family:'Liberation Sans',sans-serif;color:#111;text-align:center;">55</div>
<div class="t" style="left:-445.6px;width:1000.0px;top:66.5px;height:18.0px;line-height:18.0px;font-size:15px;font-family:'Liberation Sans',sans-serif;color:#111;text-align:center;"><span style="display:inline-block;transform:scaleX(0.857);transform-origin:center center;">SW</span></div>
<div class="t" style="left:69.5px;width:30.0px;top:6.8px;height:14.4px;line-height:14.4px;font-size:12px;font-family:'Liberation Sans',sans-serif;color:#111;text-align:center;">2.</div>
<div class="t" style="left:64.5px;width:40.0px;top:26.2px;height:14.4px;line-height:14.4px;font-size:12px;font-family:'Liberation Sans',sans-serif;color:#111;text-align:center;"><span style="display:inline-block;transform:scaleX(0.97);transform-origin:center center;">10,3</span></div>
<div class="t" style="left:69.5px;width:30.0px;top:46.2px;height:16.8px;line-height:16.8px;font-size:14px;font-family:'Liberation Sans',sans-serif;color:#111;text-align:center;">37</div>
<div class="t" style="left:-415.5px;width:1000.0px;top:68.9px;height:15.0px;line-height:15.0px;font-size:12.5px;font-family:'Liberation Sans',sans-serif;color:#111;text-align:center;"><span style="display:inline-block;transform:scaleX(0.878);transform-origin:center center;">OSO</span></div>
<div class="t" style="left:99.5px;width:30.1px;top:6.8px;height:14.4px;line-height:14.4px;font-size:12px;font-family:'Liberation Sans',sans-serif;color:#111;text-align:center;">3.</div>
<div class="t" style="left:94.5px;width:40.1px;top:26.2px;height:14.4px;line-height:14.4px;font-size:12px;font-family:'Liberation Sans',sans-serif;color:#111;text-align:center;"><span style="display:inline-block;transform:scaleX(0.97);transform-origin:center center;">14,2</span></div>
<div class="t" style="left:99.5px;width:30.1px;top:46.2px;height:16.8px;line-height:16.8px;font-size:14px;font-family:'Liberation Sans',sans-serif;color:#111;text-align:center;">51</div>
<div class="t" style="left:-385.4px;width:1000.0px;top:66.5px;height:18.0px;line-height:18.0px;font-size:15px;font-family:'Liberation Sans',sans-serif;color:#111;text-align:center;"><span style="display:inline-block;transform:scaleX(0.857);transform-origin:center center;">SW</span></div>
<div class="t" style="left:129.6px;width:31.0px;top:6.8px;height:14.4px;line-height:14.4px;font-size:12px;font-family:'Liberation Sans',sans-serif;color:#111;text-align:center;">4.</div>
<div class="t" style="left:124.6px;width:41.0px;top:26.2px;height:14.4px;line-height:14.4px;font-size:12px;font-family:'Liberation Sans',sans-serif;color:#111;text-align:center;"><span style="display:inline-block;transform:scaleX(0.97);transform-origin:center center;">12,5</span></div>
<div class="t" style="left:129.6px;width:31.0px;top:46.2px;height:16.8px;line-height:16.8px;font-size:14px;font-family:'Liberation Sans',sans-serif;color:#111;text-align:center;">45</div>
<div class="t" style="left:-354.9px;width:1000.0px;top:70.3px;height:13.2px;line-height:13.2px;font-size:11px;font-family:'Liberation Sans',sans-serif;color:#111;text-align:center;"><span style="display:inline-block;transform:scaleX(1.051);transform-origin:center center;">NNW</span></div>
<div class="t" style="left:160.6px;width:30.1px;top:6.8px;height:14.4px;line-height:14.4px;font-size:12px;font-family:'Liberation Sans',sans-serif;color:#f00;text-align:center;font-weight:bold;">5.</div>
<div class="t" style="left:155.6px;width:40.1px;top:26.2px;height:14.4px;line-height:14.4px;font-size:12px;font-family:'Liberation Sans',sans-serif;color:#111;text-align:center;"><span style="display:inline-block;transform:scaleX(0.97);transform-origin:center center;">4,2</span></div>
<div class="t" style="left:160.6px;width:30.1px;top:46.2px;height:16.8px;line-height:16.8px;font-size:14px;font-family:'Liberation Sans',sans-serif;color:#111;text-align:center;">15</div>
<div class="t" style="left:-324.4px;width:1000.0px;top:66.5px;height:18.0px;line-height:18.0px;font-size:15px;font-family:'Liberation Sans',sans-serif;color:#111;text-align:center;"><span style="display:inline-block;transform:scaleX(0.904);transform-origin:center center;">SO</span></div>
<div class="t" style="left:190.7px;width:30.0px;top:6.8px;height:14.4px;line-height:14.4px;font-size:12px;font-family:'Liberation Sans',sans-serif;color:#111;text-align:center;">6.</div>
<div class="t" style="left:185.7px;width:40.0px;top:26.2px;height:14.4px;line-height:14.4px;font-size:12px;font-family:'Liberation Sans',sans-serif;color:#111;text-align:center;"><span style="display:inline-block;transform:scaleX(0.97);transform-origin:center center;">6,7</span></div>
<div class="t" style="left:190.7px;width:30.0px;top:46.2px;height:16.8px;line-height:16.8px;font-size:14px;font-family:'Liberation Sans',sans-serif;color:#111;text-align:center;">24</div>
<div class="t" style="left:-294.3px;width:1000.0px;top:70.3px;height:13.2px;line-height:13.2px;font-size:11px;font-family:'Liberation Sans',sans-serif;color:#111;text-align:center;"><span style="display:inline-block;transform:scaleX(1.051);transform-origin:center center;">NNW</span></div>
<div class="t" style="left:220.7px;width:30.2px;top:6.8px;height:14.4px;line-height:14.4px;font-size:12px;font-family:'Liberation Sans',sans-serif;color:#111;text-align:center;">7.</div>
<div class="t" style="left:215.7px;width:40.2px;top:26.2px;height:14.4px;line-height:14.4px;font-size:12px;font-family:'Liberation Sans',sans-serif;color:#111;text-align:center;"><span style="display:inline-block;transform:scaleX(0.97);transform-origin:center center;">5,0</span></div>
<div class="t" style="left:220.7px;width:30.2px;top:46.2px;height:16.8px;line-height:16.8px;font-size:14px;font-family:'Liberation Sans',sans-serif;color:#111;text-align:center;">18</div>
<div class="t" style="left:-264.2px;width:1000.0px;top:68.9px;height:15.0px;line-height:15.0px;font-size:12.5px;font-family:'Liberation Sans',sans-serif;color:#111;text-align:center;"><span style="display:inline-block;transform:scaleX(0.962);transform-origin:center center;">SSO</span></div>
<div class="t" style="left:250.9px;width:30.4px;top:6.8px;height:14.4px;line-height:14.4px;font-size:12px;font-family:'Liberation Sans',sans-serif;color:#111;text-align:center;">8.</div>
<div class="t" style="left:245.9px;width:40.4px;top:26.2px;height:14.4px;line-height:14.4px;font-size:12px;font-family:'Liberation Sans',sans-serif;color:#111;text-align:center;"><span style="display:inline-block;transform:scaleX(0.97);transform-origin:center center;">8,9</span></div>
<div class="t" style="left:250.9px;width:30.4px;top:46.2px;height:16.8px;line-height:16.8px;font-size:14px;font-family:'Liberation Sans',sans-serif;color:#111;text-align:center;">32</div>
<div class="t" style="left:-233.9px;width:1000.0px;top:66.5px;height:18.0px;line-height:18.0px;font-size:15px;font-family:'Liberation Sans',sans-serif;color:#111;text-align:center;"><span style="display:inline-block;transform:scaleX(0.904);transform-origin:center center;">SO</span></div>
<div class="t" style="left:281.3px;width:30.1px;top:6.8px;height:14.4px;line-height:14.4px;font-size:12px;font-family:'Liberation Sans',sans-serif;color:#111;text-align:center;">9.</div>
<div class="t" style="left:276.3px;width:40.1px;top:26.2px;height:14.4px;line-height:14.4px;font-size:12px;font-family:'Liberation Sans',sans-serif;color:#111;text-align:center;"><span style="display:inline-block;transform:scaleX(0.97);transform-origin:center center;">6,4</span></div>
<div class="t" style="left:281.3px;width:30.1px;top:46.2px;height:16.8px;line-height:16.8px;font-size:14px;font-family:'Liberation Sans',sans-serif;color:#111;text-align:center;">23</div>
<div class="t" style="left:-203.6px;width:1000.0px;top:66.5px;height:18.0px;line-height:18.0px;font-size:15px;font-family:'Liberation Sans',sans-serif;color:#111;text-align:center;"><span style="display:inline-block;transform:scaleX(0.904);transform-origin:center center;">SO</span></div>
<div class="t" style="left:311.4px;width:30.1px;top:6.8px;height:14.4px;line-height:14.4px;font-size:12px;font-family:'Liberation Sans',sans-serif;color:#111;text-align:center;">10.</div>
<div class="t" style="left:306.4px;width:40.1px;top:26.2px;height:14.4px;line-height:14.4px;font-size:12px;font-family:'Liberation Sans',sans-serif;color:#111;text-align:center;"><span style="display:inline-block;transform:scaleX(0.97);transform-origin:center center;">4,2</span></div>
<div class="t" style="left:311.4px;width:30.1px;top:46.2px;height:16.8px;line-height:16.8px;font-size:14px;font-family:'Liberation Sans',sans-serif;color:#111;text-align:center;">15</div>
<div class="t" style="left:-173.6px;width:1000.0px;top:68.9px;height:15.0px;line-height:15.0px;font-size:12.5px;font-family:'Liberation Sans',sans-serif;color:#111;text-align:center;"><span style="display:inline-block;transform:scaleX(0.962);transform-origin:center center;">SSO</span></div>
<div class="t" style="left:341.5px;width:30.3px;top:6.8px;height:14.4px;line-height:14.4px;font-size:12px;font-family:'Liberation Sans',sans-serif;color:#111;text-align:center;">11.</div>
<div class="t" style="left:336.5px;width:40.3px;top:26.2px;height:14.4px;line-height:14.4px;font-size:12px;font-family:'Liberation Sans',sans-serif;color:#111;text-align:center;"><span style="display:inline-block;transform:scaleX(0.97);transform-origin:center center;">6,4</span></div>
<div class="t" style="left:341.5px;width:30.3px;top:46.2px;height:16.8px;line-height:16.8px;font-size:14px;font-family:'Liberation Sans',sans-serif;color:#111;text-align:center;">23</div>
<div class="t" style="left:-143.4px;width:1000.0px;top:66.5px;height:18.0px;line-height:18.0px;font-size:15px;font-family:'Liberation Sans',sans-serif;color:#111;text-align:center;"><span style="display:inline-block;transform:scaleX(0.82);transform-origin:center center;">S</span></div>
<div class="t" style="left:371.8px;width:33.4px;top:6.8px;height:14.4px;line-height:14.4px;font-size:12px;font-family:'Liberation Sans',sans-serif;color:#f00;text-align:center;font-weight:bold;">12.</div>
<div class="t" style="left:366.8px;width:43.4px;top:26.2px;height:14.4px;line-height:14.4px;font-size:12px;font-family:'Liberation Sans',sans-serif;color:#111;text-align:center;"><span style="display:inline-block;transform:scaleX(0.97);transform-origin:center center;">3,1</span></div>
<div class="t" style="left:371.8px;width:33.4px;top:46.2px;height:16.8px;line-height:16.8px;font-size:14px;font-family:'Liberation Sans',sans-serif;color:#111;text-align:center;">11</div>
<div class="t" style="left:-111.5px;width:1000.0px;top:68.9px;height:15.0px;line-height:15.0px;font-size:12.5px;font-family:'Liberation Sans',sans-serif;color:#111;text-align:center;"><span style="display:inline-block;transform:scaleX(0.962);transform-origin:center center;">SSO</span></div>
<div class="t" style="left:405.2px;width:30.4px;top:6.8px;height:14.4px;line-height:14.4px;font-size:12px;font-family:'Liberation Sans',sans-serif;color:#111;text-align:center;">13.</div>
<div class="t" style="left:400.2px;width:40.4px;top:26.2px;height:14.4px;line-height:14.4px;font-size:12px;font-family:'Liberation Sans',sans-serif;color:#111;text-align:center;"><span style="display:inline-block;transform:scaleX(0.97);transform-origin:center center;">3,1</span></div>
<div class="t" style="left:405.2px;width:30.4px;top:46.2px;height:16.8px;line-height:16.8px;font-size:14px;font-family:'Liberation Sans',sans-serif;color:#111;text-align:center;">11</div>
<div class="t" style="left:-79.6px;width:1000.0px;top:68.9px;height:15.0px;line-height:15.0px;font-size:12.5px;font-family:'Liberation Sans',sans-serif;color:#111;text-align:center;"><span style="display:inline-block;transform:scaleX(0.962);transform-origin:center center;">SSO</span></div>
<div class="t" style="left:435.6px;width:30.2px;top:6.8px;height:14.4px;line-height:14.4px;font-size:12px;font-family:'Liberation Sans',sans-serif;color:#111;text-align:center;">14.</div>
<div class="t" style="left:430.6px;width:40.2px;top:26.2px;height:14.4px;line-height:14.4px;font-size:12px;font-family:'Liberation Sans',sans-serif;color:#111;text-align:center;"><span style="display:inline-block;transform:scaleX(0.97);transform-origin:center center;">3,9</span></div>
<div class="t" style="left:435.6px;width:30.2px;top:46.2px;height:16.8px;line-height:16.8px;font-size:14px;font-family:'Liberation Sans',sans-serif;color:#111;text-align:center;">14</div>
<div class="t" style="left:-49.3px;width:1000.0px;top:68.9px;height:15.0px;line-height:15.0px;font-size:12.5px;font-family:'Liberation Sans',sans-serif;color:#111;text-align:center;"><span style="display:inline-block;transform:scaleX(0.962);transform-origin:center center;">SSO</span></div>
<div class="t" style="left:465.8px;width:30.4px;top:6.8px;height:14.4px;line-height:14.4px;font-size:12px;font-family:'Liberation Sans',sans-serif;color:#111;text-align:center;">15.</div>
<div class="t" style="left:460.8px;width:40.4px;top:26.2px;height:14.4px;line-height:14.4px;font-size:12px;font-family:'Liberation Sans',sans-serif;color:#111;text-align:center;"><span style="display:inline-block;transform:scaleX(0.97);transform-origin:center center;">4,4</span></div>
<div class="t" style="left:465.8px;width:30.4px;top:46.2px;height:16.8px;line-height:16.8px;font-size:14px;font-family:'Liberation Sans',sans-serif;color:#111;text-align:center;">16</div>
<div class="t" style="left:-19.0px;width:1000.0px;top:68.9px;height:15.0px;line-height:15.0px;font-size:12.5px;font-family:'Liberation Sans',sans-serif;color:#111;text-align:center;"><span style="display:inline-block;transform:scaleX(0.962);transform-origin:center center;">SSO</span></div>
<div class="t" style="left:496.2px;width:30.1px;top:6.8px;height:14.4px;line-height:14.4px;font-size:12px;font-family:'Liberation Sans',sans-serif;color:#111;text-align:center;">16.</div>
<div class="t" style="left:491.2px;width:40.1px;top:26.2px;height:14.4px;line-height:14.4px;font-size:12px;font-family:'Liberation Sans',sans-serif;color:#111;text-align:center;"><span style="display:inline-block;transform:scaleX(0.97);transform-origin:center center;">6,7</span></div>
<div class="t" style="left:496.2px;width:30.1px;top:46.2px;height:16.8px;line-height:16.8px;font-size:14px;font-family:'Liberation Sans',sans-serif;color:#111;text-align:center;">24</div>
<div class="t" style="left:11.2px;width:1000.0px;top:68.9px;height:15.0px;line-height:15.0px;font-size:12.5px;font-family:'Liberation Sans',sans-serif;color:#111;text-align:center;"><span style="display:inline-block;transform:scaleX(0.962);transform-origin:center center;">SSO</span></div>
<div class="t" style="left:526.3px;width:30.1px;top:6.8px;height:14.4px;line-height:14.4px;font-size:12px;font-family:'Liberation Sans',sans-serif;color:#111;text-align:center;">17.</div>
<div class="t" style="left:521.3px;width:40.1px;top:26.2px;height:14.4px;line-height:14.4px;font-size:12px;font-family:'Liberation Sans',sans-serif;color:#111;text-align:center;"><span style="display:inline-block;transform:scaleX(0.97);transform-origin:center center;">12,8</span></div>
<div class="t" style="left:526.3px;width:30.1px;top:46.2px;height:16.8px;line-height:16.8px;font-size:14px;font-family:'Liberation Sans',sans-serif;color:#111;text-align:center;">46</div>
<div class="t" style="left:41.3px;width:1000.0px;top:66.5px;height:18.0px;line-height:18.0px;font-size:15px;font-family:'Liberation Sans',sans-serif;color:#111;text-align:center;"><span style="display:inline-block;transform:scaleX(0.82);transform-origin:center center;">S</span></div>
<div class="t" style="left:556.4px;width:30.2px;top:6.8px;height:14.4px;line-height:14.4px;font-size:12px;font-family:'Liberation Sans',sans-serif;color:#111;text-align:center;">18.</div>
<div class="t" style="left:551.4px;width:40.2px;top:26.2px;height:14.4px;line-height:14.4px;font-size:12px;font-family:'Liberation Sans',sans-serif;color:#111;text-align:center;"><span style="display:inline-block;transform:scaleX(0.97);transform-origin:center center;">16,7</span></div>
<div class="t" style="left:556.4px;width:30.2px;top:46.2px;height:16.8px;line-height:16.8px;font-size:14px;font-family:'Liberation Sans',sans-serif;color:#111;text-align:center;">60</div>
<div class="t" style="left:71.5px;width:1000.0px;top:71.2px;height:12.0px;line-height:12.0px;font-size:10px;font-family:'Liberation Sans',sans-serif;color:#111;text-align:center;"><span style="display:inline-block;transform:scaleX(1.049);transform-origin:center center;">WSW</span></div>
<div class="t" style="left:586.6px;width:30.4px;top:6.8px;height:14.4px;line-height:14.4px;font-size:12px;font-family:'Liberation Sans',sans-serif;color:#f00;text-align:center;font-weight:bold;">19.</div>
<div class="t" style="left:581.6px;width:40.4px;top:26.2px;height:14.4px;line-height:14.4px;font-size:12px;font-family:'Liberation Sans',sans-serif;color:#111;text-align:center;"><span style="display:inline-block;transform:scaleX(0.97);transform-origin:center center;">16,9</span></div>
<div class="t" style="left:586.6px;width:30.4px;top:46.2px;height:16.8px;line-height:16.8px;font-size:14px;font-family:'Liberation Sans',sans-serif;color:#111;text-align:center;">61</div>
<div class="t" style="left:101.8px;width:1000.0px;top:71.2px;height:12.0px;line-height:12.0px;font-size:10px;font-family:'Liberation Sans',sans-serif;color:#111;text-align:center;"><span style="display:inline-block;transform:scaleX(1.049);transform-origin:center center;">WSW</span></div>
<div class="t" style="left:617.0px;width:33.5px;top:6.8px;height:14.4px;line-height:14.4px;font-size:12px;font-family:'Liberation Sans',sans-serif;color:#111;text-align:center;">20.</div>
<div class="t" style="left:612.0px;width:43.5px;top:26.2px;height:14.4px;line-height:14.4px;font-size:12px;font-family:'Liberation Sans',sans-serif;color:#111;text-align:center;"><span style="display:inline-block;transform:scaleX(0.97);transform-origin:center center;">11,7</span></div>
<div class="t" style="left:617.0px;width:33.5px;top:46.2px;height:16.8px;line-height:16.8px;font-size:14px;font-family:'Liberation Sans',sans-serif;color:#111;text-align:center;">42</div>
<div class="t" style="left:133.8px;width:1000.0px;top:66.5px;height:18.0px;line-height:18.0px;font-size:15px;font-family:'Liberation Sans',sans-serif;color:#111;text-align:center;"><span style="display:inline-block;transform:scaleX(0.82);transform-origin:center center;">S</span></div>
<div class="t" style="left:650.5px;width:30.0px;top:6.8px;height:14.4px;line-height:14.4px;font-size:12px;font-family:'Liberation Sans',sans-serif;color:#111;text-align:center;">21.</div>
<div class="t" style="left:645.5px;width:40.0px;top:26.2px;height:14.4px;line-height:14.4px;font-size:12px;font-family:'Liberation Sans',sans-serif;color:#111;text-align:center;"><span style="display:inline-block;transform:scaleX(0.97);transform-origin:center center;">8,1</span></div>
<div class="t" style="left:650.5px;width:30.0px;top:46.2px;height:16.8px;line-height:16.8px;font-size:14px;font-family:'Liberation Sans',sans-serif;color:#111;text-align:center;">29</div>
<div class="t" style="left:165.5px;width:1000.0px;top:66.5px;height:18.0px;line-height:18.0px;font-size:15px;font-family:'Liberation Sans',sans-serif;color:#111;text-align:center;"><span style="display:inline-block;transform:scaleX(0.82);transform-origin:center center;">S</span></div>
<div class="t" style="left:680.5px;width:30.4px;top:6.8px;height:14.4px;line-height:14.4px;font-size:12px;font-family:'Liberation Sans',sans-serif;color:#111;text-align:center;">22.</div>
<div class="t" style="left:675.5px;width:40.4px;top:26.2px;height:14.4px;line-height:14.4px;font-size:12px;font-family:'Liberation Sans',sans-serif;color:#111;text-align:center;"><span style="display:inline-block;transform:scaleX(0.97);transform-origin:center center;">5,6</span></div>
<div class="t" style="left:680.5px;width:30.4px;top:46.2px;height:16.8px;line-height:16.8px;font-size:14px;font-family:'Liberation Sans',sans-serif;color:#111;text-align:center;">20</div>
<div class="t" style="left:195.7px;width:1000.0px;top:68.9px;height:15.0px;line-height:15.0px;font-size:12.5px;font-family:'Liberation Sans',sans-serif;color:#111;text-align:center;"><span style="display:inline-block;transform:scaleX(0.962);transform-origin:center center;">SSO</span></div>
<div class="t" style="left:710.9px;width:30.3px;top:6.8px;height:14.4px;line-height:14.4px;font-size:12px;font-family:'Liberation Sans',sans-serif;color:#111;text-align:center;">23.</div>
<div class="t" style="left:705.9px;width:40.3px;top:26.2px;height:14.4px;line-height:14.4px;font-size:12px;font-family:'Liberation Sans',sans-serif;color:#111;text-align:center;"><span style="display:inline-block;transform:scaleX(0.97);transform-origin:center center;">3,9</span></div>
<div class="t" style="left:710.9px;width:30.3px;top:46.2px;height:16.8px;line-height:16.8px;font-size:14px;font-family:'Liberation Sans',sans-serif;color:#111;text-align:center;">14</div>
<div class="t" style="left:226.0px;width:1000.0px;top:66.5px;height:18.0px;line-height:18.0px;font-size:15px;font-family:'Liberation Sans',sans-serif;color:#111;text-align:center;"><span style="display:inline-block;transform:scaleX(0.82);transform-origin:center center;">S</span></div>
<div class="t" style="left:741.2px;width:30.4px;top:6.8px;height:14.4px;line-height:14.4px;font-size:12px;font-family:'Liberation Sans',sans-serif;color:#111;text-align:center;">24.</div>
<div class="t" style="left:736.2px;width:40.4px;top:26.2px;height:14.4px;line-height:14.4px;font-size:12px;font-family:'Liberation Sans',sans-serif;color:#111;text-align:center;"><span style="display:inline-block;transform:scaleX(0.97);transform-origin:center center;">9,2</span></div>
<div class="t" style="left:741.2px;width:30.4px;top:46.2px;height:16.8px;line-height:16.8px;font-size:14px;font-family:'Liberation Sans',sans-serif;color:#111;text-align:center;">33</div>
<div class="t" style="left:256.4px;width:1000.0px;top:71.2px;height:12.0px;line-height:12.0px;font-size:10px;font-family:'Liberation Sans',sans-serif;color:#111;text-align:center;"><span style="display:inline-block;transform:scaleX(1.049);transform-origin:center center;">WSW</span></div>
<div class="t" style="left:771.6px;width:30.2px;top:6.8px;height:14.4px;line-height:14.4px;font-size:12px;font-family:'Liberation Sans',sans-serif;color:#111;text-align:center;">25.</div>
<div class="t" style="left:766.6px;width:40.2px;top:26.2px;height:14.4px;line-height:14.4px;font-size:12px;font-family:'Liberation Sans',sans-serif;color:#111;text-align:center;"><span style="display:inline-block;transform:scaleX(0.97);transform-origin:center center;">10,8</span></div>
<div class="t" style="left:771.6px;width:30.2px;top:46.2px;height:16.8px;line-height:16.8px;font-size:14px;font-family:'Liberation Sans',sans-serif;color:#111;text-align:center;">39</div>
<div class="t" style="left:286.7px;width:1000.0px;top:66.5px;height:18.0px;line-height:18.0px;font-size:15px;font-family:'Liberation Sans',sans-serif;color:#111;text-align:center;"><span style="display:inline-block;transform:scaleX(0.9);transform-origin:center center;">NW</span></div>
<div class="t" style="left:801.8px;width:30.4px;top:6.8px;height:14.4px;line-height:14.4px;font-size:12px;font-family:'Liberation Sans',sans-serif;color:#f00;text-align:center;font-weight:bold;">26.</div>
<div class="t" style="left:796.8px;width:40.4px;top:26.2px;height:14.4px;line-height:14.4px;font-size:12px;font-family:'Liberation Sans',sans-serif;color:#111;text-align:center;"><span style="display:inline-block;transform:scaleX(0.97);transform-origin:center center;">12,5</span></div>
<div class="t" style="left:801.8px;width:30.4px;top:46.2px;height:16.8px;line-height:16.8px;font-size:14px;font-family:'Liberation Sans',sans-serif;color:#111;text-align:center;">45</div>
<div class="t" style="left:317.0px;width:1000.0px;top:70.3px;height:13.2px;line-height:13.2px;font-size:11px;font-family:'Liberation Sans',sans-serif;color:#111;text-align:center;"><span style="display:inline-block;transform:scaleX(1.051);transform-origin:center center;">NNW</span></div>
<div class="t" style="left:832.2px;width:30.0px;top:6.8px;height:14.4px;line-height:14.4px;font-size:12px;font-family:'Liberation Sans',sans-serif;color:#111;text-align:center;">27.</div>
<div class="t" style="left:827.2px;width:40.0px;top:26.2px;height:14.4px;line-height:14.4px;font-size:12px;font-family:'Liberation Sans',sans-serif;color:#111;text-align:center;"><span style="display:inline-block;transform:scaleX(0.97);transform-origin:center center;">11,4</span></div>
<div class="t" style="left:832.2px;width:30.0px;top:46.2px;height:16.8px;line-height:16.8px;font-size:14px;font-family:'Liberation Sans',sans-serif;color:#111;text-align:center;">41</div>
<div class="t" style="left:347.2px;width:1000.0px;top:70.3px;height:13.2px;line-height:13.2px;font-size:11px;font-family:'Liberation Sans',sans-serif;color:#111;text-align:center;"><span style="display:inline-block;transform:scaleX(1.051);transform-origin:center center;">NNW</span></div>
<div class="t" style="left:862.2px;width:30.1px;top:6.8px;height:14.4px;line-height:14.4px;font-size:12px;font-family:'Liberation Sans',sans-serif;color:#111;text-align:center;">28.</div>
<div class="t" style="left:857.2px;width:40.1px;top:26.2px;height:14.4px;line-height:14.4px;font-size:12px;font-family:'Liberation Sans',sans-serif;color:#111;text-align:center;"><span style="display:inline-block;transform:scaleX(0.97);transform-origin:center center;">10,0</span></div>
<div class="t" style="left:862.2px;width:30.1px;top:46.2px;height:16.8px;line-height:16.8px;font-size:14px;font-family:'Liberation Sans',sans-serif;color:#111;text-align:center;">36</div>
<div class="t" style="left:377.2px;width:1000.0px;top:70.3px;height:13.2px;line-height:13.2px;font-size:11px;font-family:'Liberation Sans',sans-serif;color:#111;text-align:center;"><span style="display:inline-block;transform:scaleX(1.002);transform-origin:center center;">NNO</span></div>
<div class="t" style="left:-79.7px;top:43.8px;width:200px;height:18.0px;line-height:18.0px;font-size:15px;font-family:'Liberation Sans',sans-serif;text-align:center;transform:rotate(-90deg) scaleX(1.02);font-weight:bold;">Wind</div>
<div class="t" style="left:132.7px;width:67.3px;top:100.2px;height:17.4px;line-height:17.4px;font-size:14.5px;font-family:'Liberation Sans',sans-serif;color:#111;text-align:left;">Max</div>
<div class="t" style="left:244.6px;width:55.4px;top:100.2px;height:17.4px;line-height:17.4px;font-size:14.5px;font-family:'Liberation Sans',sans-serif;color:#111;text-align:left;">Min</div>
<div class="t" style="left:354.0px;width:66.0px;top:100.2px;height:17.4px;line-height:17.4px;font-size:14.5px;font-family:'Liberation Sans',sans-serif;color:#111;text-align:left;">Mittel</div>
<div class="t" style="left:0.0px;width:28.6px;top:86.5px;height:13.2px;line-height:13.2px;font-size:11px;font-family:'Liberation Sans',sans-serif;color:#1a1a1a;text-align:right;-webkit-text-stroke:0.35px #1a1a1a;">16,0</div>
<div class="t" style="left:0.0px;width:28.6px;top:112.2px;height:13.2px;line-height:13.2px;font-size:11px;font-family:'Liberation Sans',sans-serif;color:#1a1a1a;text-align:right;-webkit-text-stroke:0.35px #1a1a1a;">14,0</div>
<div class="t" style="left:0.0px;width:28.6px;top:137.9px;height:13.2px;line-height:13.2px;font-size:11px;font-family:'Liberation Sans',sans-serif;color:#1a1a1a;text-align:right;-webkit-text-stroke:0.35px #1a1a1a;">12,0</div>
<div class="t" style="left:0.0px;width:28.6px;top:163.6px;height:13.2px;line-height:13.2px;font-size:11px;font-family:'Liberation Sans',sans-serif;color:#1a1a1a;text-align:right;-webkit-text-stroke:0.35px #1a1a1a;">10,0</div>
<div class="t" style="left:0.0px;width:28.6px;top:189.3px;height:13.2px;line-height:13.2px;font-size:11px;font-family:'Liberation Sans',sans-serif;color:#1a1a1a;text-align:right;-webkit-text-stroke:0.35px #1a1a1a;">8,0</div>
<div class="t" style="left:0.0px;width:28.6px;top:215.0px;height:13.2px;line-height:13.2px;font-size:11px;font-family:'Liberation Sans',sans-serif;color:#1a1a1a;text-align:right;-webkit-text-stroke:0.35px #1a1a1a;">6,0</div>
<div class="t" style="left:0.0px;width:28.6px;top:240.7px;height:13.2px;line-height:13.2px;font-size:11px;font-family:'Liberation Sans',sans-serif;color:#1a1a1a;text-align:right;-webkit-text-stroke:0.35px #1a1a1a;">4,0</div>
<div class="t" style="left:0.0px;width:28.6px;top:266.4px;height:13.2px;line-height:13.2px;font-size:11px;font-family:'Liberation Sans',sans-serif;color:#1a1a1a;text-align:right;-webkit-text-stroke:0.35px #1a1a1a;">2,0</div>
<div class="t" style="left:0.0px;width:28.6px;top:292.2px;height:13.2px;line-height:13.2px;font-size:11px;font-family:'Liberation Sans',sans-serif;color:#1a1a1a;text-align:right;-webkit-text-stroke:0.35px #1a1a1a;">0,0</div>
<div class="t" style="left:0.0px;width:28.6px;top:317.9px;height:13.2px;line-height:13.2px;font-size:11px;font-family:'Liberation Sans',sans-serif;color:#1a1a1a;text-align:right;-webkit-text-stroke:0.35px #1a1a1a;">-2,0</div>
<div class="t" style="left:0.0px;width:28.6px;top:343.6px;height:13.2px;line-height:13.2px;font-size:11px;font-family:'Liberation Sans',sans-serif;color:#1a1a1a;text-align:right;-webkit-text-stroke:0.35px #1a1a1a;">-4,0</div>
<div class="t" style="left:0.0px;width:28.6px;top:369.3px;height:13.2px;line-height:13.2px;font-size:11px;font-family:'Liberation Sans',sans-serif;color:#1a1a1a;text-align:right;-webkit-text-stroke:0.35px #1a1a1a;">-6,0</div>
<div class="t" style="left:0.0px;width:28.6px;top:395.0px;height:13.2px;line-height:13.2px;font-size:11px;font-family:'Liberation Sans',sans-serif;color:#1a1a1a;text-align:right;-webkit-text-stroke:0.35px #1a1a1a;">-8,0</div>
<div class="t" style="left:0.0px;width:28.6px;top:420.7px;height:13.2px;line-height:13.2px;font-size:11px;font-family:'Liberation Sans',sans-serif;color:#1a1a1a;text-align:right;-webkit-text-stroke:0.35px #1a1a1a;">-10,0</div>
<div class="t" style="left:0.0px;width:28.6px;top:446.4px;height:13.2px;line-height:13.2px;font-size:11px;font-family:'Liberation Sans',sans-serif;color:#1a1a1a;text-align:right;-webkit-text-stroke:0.35px #1a1a1a;">-12,0</div>
<div class="t" style="left:0.0px;width:28.6px;top:472.1px;height:13.2px;line-height:13.2px;font-size:11px;font-family:'Liberation Sans',sans-serif;color:#1a1a1a;text-align:right;-webkit-text-stroke:0.35px #1a1a1a;">-14,0</div>
<div class="t" style="left:-285.4px;width:1000.0px;top:136.2px;height:12.0px;line-height:12.0px;font-size:10px;font-family:'Liberation Sans',sans-serif;color:#1c1c1c;text-align:center;"><span style="display:inline-block;transform:scaleX(0.934);transform-origin:center center;">O = Sonnig</span></div>
<div class="t" style="left:-281.9px;width:1000.0px;top:149.2px;height:12.0px;line-height:12.0px;font-size:10px;font-family:'Liberation Sans',sans-serif;color:#1c1c1c;text-align:center;"><span style="display:inline-block;transform:scaleX(0.985);transform-origin:center center;">B = Bewölkt</span></div>
<div class="t" style="left:-275.5px;width:1000.0px;top:163.3px;height:12.0px;line-height:12.0px;font-size:10px;font-family:'Liberation Sans',sans-serif;color:#1c1c1c;text-align:center;"><span style="display:inline-block;transform:scaleX(1.003);transform-origin:center center;">= Gewitter</span></div>
<div class="t" style="left:-275.5px;width:1000.0px;top:176.8px;height:12.0px;line-height:12.0px;font-size:10px;font-family:'Liberation Sans',sans-serif;color:#1c1c1c;text-align:center;"><span style="display:inline-block;transform:scaleX(0.933);transform-origin:center center;">S = Schneefall</span></div>
<div class="t" style="left:-283.4px;width:1000.0px;top:191.7px;height:12.0px;line-height:12.0px;font-size:10px;font-family:'Liberation Sans',sans-serif;color:#1c1c1c;text-align:center;"><span style="display:inline-block;transform:scaleX(0.979);transform-origin:center center;">N = Nebel</span></div>
<div class="t" style="left:-192.6px;width:1000.0px;top:136.2px;height:12.0px;line-height:12.0px;font-size:10px;font-family:'Liberation Sans',sans-serif;color:#1c1c1c;text-align:center;"><span style="display:inline-block;transform:scaleX(0.974);transform-origin:center center;">H = Heiter</span></div>
<div class="t" style="left:-177.4px;width:1000.0px;top:149.2px;height:12.0px;line-height:12.0px;font-size:10px;font-family:'Liberation Sans',sans-serif;color:#1c1c1c;text-align:center;"><span style="display:inline-block;transform:scaleX(0.943);transform-origin:center center;">R = Niederschlag</span></div>
<div class="t" style="left:-173.1px;width:1000.0px;top:163.3px;height:12.0px;line-height:12.0px;font-size:10px;font-family:'Liberation Sans',sans-serif;color:#1c1c1c;text-align:center;"><span style="display:inline-block;transform:scaleX(0.975);transform-origin:center center;">= sta. Gewitter</span></div>
<div class="t" style="left:-178.1px;width:1000.0px;top:176.8px;height:12.0px;line-height:12.0px;font-size:10px;font-family:'Liberation Sans',sans-serif;color:#1c1c1c;text-align:center;"><span style="display:inline-block;transform:scaleX(0.913);transform-origin:center center;">SD = Schneedecke</span></div>
<div class="t" style="left:-191.4px;width:1000.0px;top:191.7px;height:12.0px;line-height:12.0px;font-size:10px;font-family:'Liberation Sans',sans-serif;color:#1c1c1c;text-align:center;"><span style="display:inline-block;transform:scaleX(0.978);transform-origin:center center;">Hg= Hagel</span></div>
<div class="t" style="left:39.4px;width:30.1px;top:490.0px;height:14.4px;line-height:14.4px;font-size:12px;font-family:'Liberation Sans',sans-serif;color:#111;text-align:center;">1.</div>
<div class="t" style="left:19.4px;width:48.2px;top:513.1px;height:13.2px;line-height:13.2px;font-size:11px;font-family:'Liberation Sans',sans-serif;color:#111;text-align:right;"><span style="display:inline-block;transform:scaleX(1.04);transform-origin:right center;">0,4</span></div>
<div class="t" style="left:19.4px;width:48.2px;top:533.6px;height:14.4px;line-height:14.4px;font-size:12px;font-family:'Liberation Sans',sans-serif;color:#111;text-align:right;">9,8</div>
<div class="t" style="left:19.4px;width:48.2px;top:554.9px;height:14.4px;line-height:14.4px;font-size:12px;font-family:'Liberation Sans',sans-serif;color:#111;text-align:right;">3,8</div>
<div class="t" style="left:19.4px;width:48.2px;top:576.4px;height:14.4px;line-height:14.4px;font-size:12px;font-family:'Liberation Sans',sans-serif;color:#111;text-align:right;">1,1</div>
<div class="t" style="left:19.4px;width:48.2px;top:597.7px;height:14.4px;line-height:14.4px;font-size:12px;font-family:'Liberation Sans',sans-serif;color:#111;text-align:right;">2,5</div>
<div class="t" style="left:39.4px;width:30.1px;top:637.3px;height:16.8px;line-height:16.8px;font-size:14px;font-family:'Liberation Sans',sans-serif;color:#111;text-align:center;"><span style="display:inline-block;transform:scaleX(0.9);transform-origin:center center;">B</span></div>
<div class="t" style="left:39.4px;width:30.1px;top:658.7px;height:16.8px;line-height:16.8px;font-size:14px;font-family:'Liberation Sans',sans-serif;color:#111;text-align:center;"><span style="display:inline-block;transform:scaleX(0.9);transform-origin:center center;">R</span></div>
<div class="t" style="left:39.4px;width:30.1px;top:679.9px;height:16.8px;line-height:16.8px;font-size:14px;font-family:'Liberation Sans',sans-serif;color:#111;text-align:center;"><span style="display:inline-block;transform:scaleX(0.9);transform-origin:center center;">S</span></div>
<div class="t" style="left:69.5px;width:30.0px;top:490.0px;height:14.4px;line-height:14.4px;font-size:12px;font-family:'Liberation Sans',sans-serif;color:#111;text-align:center;">2.</div>
<div class="t" style="left:49.5px;width:48.1px;top:513.1px;height:13.2px;line-height:13.2px;font-size:11px;font-family:'Liberation Sans',sans-serif;color:#111;text-align:right;"><span style="display:inline-block;transform:scaleX(1.04);transform-origin:right center;">0,2</span></div>
<div class="t" style="left:49.5px;width:48.1px;top:533.6px;height:14.4px;line-height:14.4px;font-size:12px;font-family:'Liberation Sans',sans-serif;color:#111;text-align:right;">24,7</div>
<div class="t" style="left:49.5px;width:48.1px;top:554.9px;height:14.4px;line-height:14.4px;font-size:12px;font-family:'Liberation Sans',sans-serif;color:#111;text-align:right;">1,6</div>
<div class="t" style="left:49.5px;width:48.1px;top:576.4px;height:14.4px;line-height:14.4px;font-size:12px;font-family:'Liberation Sans',sans-serif;color:#111;text-align:right;">0,0</div>
<div class="t" style="left:49.5px;width:48.1px;top:597.7px;height:14.4px;line-height:14.4px;font-size:12px;font-family:'Liberation Sans',sans-serif;color:#111;text-align:right;">0,8</div>
<div class="t" style="left:69.5px;width:30.0px;top:637.3px;height:16.8px;line-height:16.8px;font-size:14px;font-family:'Liberation Sans',sans-serif;color:#111;text-align:center;"><span style="display:inline-block;transform:scaleX(0.9);transform-origin:center center;">B</span></div>
<div class="t" style="left:69.5px;width:30.0px;top:658.7px;height:16.8px;line-height:16.8px;font-size:14px;font-family:'Liberation Sans',sans-serif;color:#111;text-align:center;"><span style="display:inline-block;transform:scaleX(0.9);transform-origin:center center;">R</span></div>
<div class="t" style="left:69.5px;width:30.0px;top:679.9px;height:16.8px;line-height:16.8px;font-size:14px;font-family:'Liberation Sans',sans-serif;color:#111;text-align:center;"><span style="display:inline-block;transform:scaleX(0.9);transform-origin:center center;">S</span></div>
<div class="t" style="left:69.5px;width:30.0px;top:700.9px;height:16.8px;line-height:16.8px;font-size:14px;font-family:'Liberation Sans',sans-serif;color:#111;text-align:center;"><span style="display:inline-block;transform:scaleX(0.88);transform-origin:center center;">SD</span></div>
<div class="t" style="left:69.5px;width:30.0px;top:722.2px;height:16.8px;line-height:16.8px;font-size:14px;font-family:'Liberation Sans',sans-serif;color:#111;text-align:center;"><span style="display:inline-block;transform:scaleX(0.9);transform-origin:center center;">7</span></div>
<div class="t" style="left:69.5px;width:30.0px;top:743.5px;height:16.8px;line-height:16.8px;font-size:14px;font-family:'Liberation Sans',sans-serif;color:#111;text-align:center;"><span style="display:inline-block;transform:scaleX(0.9);transform-origin:center center;">7</span></div>
<div class="t" style="left:99.5px;width:30.1px;top:490.0px;height:14.4px;line-height:14.4px;font-size:12px;font-family:'Liberation Sans',sans-serif;color:#111;text-align:center;">3.</div>
<div class="t" style="left:79.5px;width:48.2px;top:513.1px;height:13.2px;line-height:13.2px;font-size:11px;font-family:'Liberation Sans',sans-serif;color:#111;text-align:right;"><span style="display:inline-block;transform:scaleX(1.04);transform-origin:right center;">1,0</span></div>
<div class="t" style="left:79.5px;width:48.2px;top:533.6px;height:14.4px;line-height:14.4px;font-size:12px;font-family:'Liberation Sans',sans-serif;color:#111;text-align:right;">10,1</div>
<div class="t" style="left:79.5px;width:48.2px;top:554.9px;height:14.4px;line-height:14.4px;font-size:12px;font-family:'Liberation Sans',sans-serif;color:#111;text-align:right;">6,1</div>
<div class="t" style="left:79.5px;width:48.2px;top:576.4px;height:14.4px;line-height:14.4px;font-size:12px;font-family:'Liberation Sans',sans-serif;color:#111;text-align:right;">1,2</div>
<div class="t" style="left:79.5px;width:48.2px;top:597.7px;height:14.4px;line-height:14.4px;font-size:12px;font-family:'Liberation Sans',sans-serif;color:#111;text-align:right;">3,7</div>
<div class="t" style="left:99.5px;width:30.1px;top:637.3px;height:16.8px;line-height:16.8px;font-size:14px;font-family:'Liberation Sans',sans-serif;color:#111;text-align:center;"><span style="display:inline-block;transform:scaleX(0.9);transform-origin:center center;">B</span></div>
<div class="t" style="left:99.5px;width:30.1px;top:658.7px;height:16.8px;line-height:16.8px;font-size:14px;font-family:'Liberation Sans',sans-serif;color:#111;text-align:center;"><span style="display:inline-block;transform:scaleX(0.9);transform-origin:center center;">R</span></div>
<div class="t" style="left:99.5px;width:30.1px;top:700.9px;height:16.8px;line-height:16.8px;font-size:14px;font-family:'Liberation Sans',sans-serif;color:#111;text-align:center;"><span style="display:inline-block;transform:scaleX(0.88);transform-origin:center center;">SD</span></div>
<div class="t" style="left:99.5px;width:30.1px;top:722.2px;height:16.8px;line-height:16.8px;font-size:14px;font-family:'Liberation Sans',sans-serif;color:#111;text-align:center;"><span style="display:inline-block;transform:scaleX(0.9);transform-origin:center center;">4</span></div>
<div class="t" style="left:129.6px;width:31.0px;top:490.0px;height:14.4px;line-height:14.4px;font-size:12px;font-family:'Liberation Sans',sans-serif;color:#111;text-align:center;">4.</div>
<div class="t" style="left:109.6px;width:49.1px;top:513.1px;height:13.2px;line-height:13.2px;font-size:11px;font-family:'Liberation Sans',sans-serif;color:#111;text-align:right;"><span style="display:inline-block;transform:scaleX(1.04);transform-origin:right center;">-5,2</span></div>
<div class="t" style="left:109.6px;width:49.1px;top:533.6px;height:14.4px;line-height:14.4px;font-size:12px;font-family:'Liberation Sans',sans-serif;color:#111;text-align:right;">0,3</div>
<div class="t" style="left:109.6px;width:49.1px;top:554.9px;height:14.4px;line-height:14.4px;font-size:12px;font-family:'Liberation Sans',sans-serif;color:#111;text-align:right;">7,9</div>
<div class="t" style="left:109.6px;width:49.1px;top:576.4px;height:14.4px;line-height:14.4px;font-size:12px;font-family:'Liberation Sans',sans-serif;color:#111;text-align:right;">-4,2</div>
<div class="t" style="left:109.6px;width:49.1px;top:597.7px;height:14.4px;line-height:14.4px;font-size:12px;font-family:'Liberation Sans',sans-serif;color:#111;text-align:right;">1,9</div>
<div class="t" style="left:129.6px;width:31.0px;top:637.3px;height:16.8px;line-height:16.8px;font-size:14px;font-family:'Liberation Sans',sans-serif;color:#111;text-align:center;"><span style="display:inline-block;transform:scaleX(0.9);transform-origin:center center;">B</span></div>
<div class="t" style="left:129.6px;width:31.0px;top:679.9px;height:16.8px;line-height:16.8px;font-size:14px;font-family:'Liberation Sans',sans-serif;color:#111;text-align:center;"><span style="display:inline-block;transform:scaleX(0.9);transform-origin:center center;">S</span></div>
<div class="t" style="left:160.6px;width:30.1px;top:490.0px;height:14.4px;line-height:14.4px;font-size:12px;font-family:'Liberation Sans',sans-serif;color:#f00;text-align:center;font-weight:bold;">5.</div>
<div class="t" style="left:140.6px;width:48.2px;top:513.1px;height:13.2px;line-height:13.2px;font-size:11px;font-family:'Liberation Sans',sans-serif;color:#111;text-align:right;"><span style="display:inline-block;transform:scaleX(1.04);transform-origin:right center;">-7,7</span></div>
<div class="t" style="left:140.6px;width:48.2px;top:533.6px;height:14.4px;line-height:14.4px;font-size:12px;font-family:'Liberation Sans',sans-serif;color:#111;text-align:right;">0,7</div>
<div class="t" style="left:140.6px;width:48.2px;top:554.9px;height:14.4px;line-height:14.4px;font-size:12px;font-family:'Liberation Sans',sans-serif;color:#111;text-align:right;">1,1</div>
<div class="t" style="left:140.6px;width:48.2px;top:576.4px;height:14.4px;line-height:14.4px;font-size:12px;font-family:'Liberation Sans',sans-serif;color:#111;text-align:right;">-6,6</div>
<div class="t" style="left:140.6px;width:48.2px;top:597.7px;height:14.4px;line-height:14.4px;font-size:12px;font-family:'Liberation Sans',sans-serif;color:#111;text-align:right;">-2,8</div>
<div class="t" style="left:160.6px;width:30.1px;top:637.3px;height:16.8px;line-height:16.8px;font-size:14px;font-family:'Liberation Sans',sans-serif;color:#111;text-align:center;"><span style="display:inline-block;transform:scaleX(0.9);transform-origin:center center;">B</span></div>
<div class="t" style="left:160.6px;width:30.1px;top:679.9px;height:16.8px;line-height:16.8px;font-size:14px;font-family:'Liberation Sans',sans-serif;color:#111;text-align:center;"><span style="display:inline-block;transform:scaleX(0.9);transform-origin:center center;">S</span></div>
<div class="t" style="left:160.6px;width:30.1px;top:700.9px;height:16.8px;line-height:16.8px;font-size:14px;font-family:'Liberation Sans',sans-serif;color:#111;text-align:center;"><span style="display:inline-block;transform:scaleX(0.88);transform-origin:center center;">SD</span></div>
<div class="t" style="left:160.6px;width:30.1px;top:722.2px;height:16.8px;line-height:16.8px;font-size:14px;font-family:'Liberation Sans',sans-serif;color:#111;text-align:center;"><span style="display:inline-block;transform:scaleX(0.9);transform-origin:center center;">1</span></div>
<div class="t" style="left:160.6px;width:30.1px;top:743.5px;height:16.8px;line-height:16.8px;font-size:14px;font-family:'Liberation Sans',sans-serif;color:#111;text-align:center;"><span style="display:inline-block;transform:scaleX(0.9);transform-origin:center center;">1</span></div>
<div class="t" style="left:190.7px;width:30.0px;top:490.0px;height:14.4px;line-height:14.4px;font-size:12px;font-family:'Liberation Sans',sans-serif;color:#111;text-align:center;">6.</div>
<div class="t" style="left:170.7px;width:48.1px;top:513.1px;height:13.2px;line-height:13.2px;font-size:11px;font-family:'Liberation Sans',sans-serif;color:#111;text-align:right;"><span style="display:inline-block;transform:scaleX(1.04);transform-origin:right center;">-7,2</span></div>
<div class="t" style="left:170.7px;width:48.1px;top:533.6px;height:14.4px;line-height:14.4px;font-size:12px;font-family:'Liberation Sans',sans-serif;color:#111;text-align:right;">0,1</div>
<div class="t" style="left:170.7px;width:48.1px;top:554.9px;height:14.4px;line-height:14.4px;font-size:12px;font-family:'Liberation Sans',sans-serif;color:#111;text-align:right;">0,2</div>
<div class="t" style="left:170.7px;width:48.1px;top:576.4px;height:14.4px;line-height:14.4px;font-size:12px;font-family:'Liberation Sans',sans-serif;color:#111;text-align:right;">-5,6</div>
<div class="t" style="left:170.7px;width:48.1px;top:597.7px;height:14.4px;line-height:14.4px;font-size:12px;font-family:'Liberation Sans',sans-serif;color:#111;text-align:right;">-2,7</div>
<div class="t" style="left:190.7px;width:30.0px;top:637.3px;height:16.8px;line-height:16.8px;font-size:14px;font-family:'Liberation Sans',sans-serif;color:#111;text-align:center;"><span style="display:inline-block;transform:scaleX(0.9);transform-origin:center center;">B</span></div>
<div class="t" style="left:190.7px;width:30.0px;top:679.9px;height:16.8px;line-height:16.8px;font-size:14px;font-family:'Liberation Sans',sans-serif;color:#111;text-align:center;"><span style="display:inline-block;transform:scaleX(0.9);transform-origin:center center;">S</span></div>
<div class="t" style="left:220.7px;width:30.2px;top:490.0px;height:14.4px;line-height:14.4px;font-size:12px;font-family:'Liberation Sans',sans-serif;color:#111;text-align:center;">7.</div>
<div class="t" style="left:200.7px;width:48.3px;top:513.1px;height:13.2px;line-height:13.2px;font-size:11px;font-family:'Liberation Sans',sans-serif;color:#111;text-align:right;"><span style="display:inline-block;transform:scaleX(1.029);transform-origin:right center;">-10,1</span></div>
<div class="t" style="left:200.7px;width:48.3px;top:554.9px;height:14.4px;line-height:14.4px;font-size:12px;font-family:'Liberation Sans',sans-serif;color:#111;text-align:right;">2,6</div>
<div class="t" style="left:200.7px;width:48.3px;top:576.4px;height:14.4px;line-height:14.4px;font-size:12px;font-family:'Liberation Sans',sans-serif;color:#111;text-align:right;">-9,2</div>
<div class="t" style="left:200.7px;width:48.3px;top:597.7px;height:14.4px;line-height:14.4px;font-size:12px;font-family:'Liberation Sans',sans-serif;color:#111;text-align:right;">-3,3</div>
<div class="t" style="left:220.7px;width:30.2px;top:637.3px;height:16.8px;line-height:16.8px;font-size:14px;font-family:'Liberation Sans',sans-serif;color:#111;text-align:center;"><span style="display:inline-block;transform:scaleX(0.9);transform-origin:center center;">H</span></div>
<div class="t" style="left:250.9px;width:30.4px;top:490.0px;height:14.4px;line-height:14.4px;font-size:12px;font-family:'Liberation Sans',sans-serif;color:#111;text-align:center;">8.</div>
<div class="t" style="left:230.9px;width:48.5px;top:513.1px;height:13.2px;line-height:13.2px;font-size:11px;font-family:'Liberation Sans',sans-serif;color:#111;text-align:right;"><span style="display:inline-block;transform:scaleX(1.037);transform-origin:right center;">-10,2</span></div>
<div class="t" style="left:230.9px;width:48.5px;top:554.9px;height:14.4px;line-height:14.4px;font-size:12px;font-family:'Liberation Sans',sans-serif;color:#111;text-align:right;">2,4</div>
<div class="t" style="left:230.9px;width:48.5px;top:576.4px;height:14.4px;line-height:14.4px;font-size:12px;font-family:'Liberation Sans',sans-serif;color:#111;text-align:right;"><span style="display:inline-block;transform:scaleX(0.951);transform-origin:right center;">-10,0</span></div>
<div class="t" style="left:230.9px;width:48.5px;top:597.7px;height:14.4px;line-height:14.4px;font-size:12px;font-family:'Liberation Sans',sans-serif;color:#111;text-align:right;">-3,8</div>
<div class="t" style="left:250.9px;width:30.4px;top:637.3px;height:16.8px;line-height:16.8px;font-size:14px;font-family:'Liberation Sans',sans-serif;color:#111;text-align:center;"><span style="display:inline-block;transform:scaleX(0.9);transform-origin:center center;">O</span></div>
<div class="t" style="left:281.3px;width:30.1px;top:490.0px;height:14.4px;line-height:14.4px;font-size:12px;font-family:'Liberation Sans',sans-serif;color:#111;text-align:center;">9.</div>
<div class="t" style="left:261.3px;width:48.2px;top:513.1px;height:13.2px;line-height:13.2px;font-size:11px;font-family:'Liberation Sans',sans-serif;color:#111;text-align:right;"><span style="display:inline-block;transform:scaleX(1.04);transform-origin:right center;">-11,6</span></div>
<div class="t" style="left:261.3px;width:48.2px;top:554.9px;height:14.4px;line-height:14.4px;font-size:12px;font-family:'Liberation Sans',sans-serif;color:#111;text-align:right;">2,3</div>
<div class="t" style="left:261.3px;width:48.2px;top:576.4px;height:14.4px;line-height:14.4px;font-size:12px;font-family:'Liberation Sans',sans-serif;color:#111;text-align:right;"><span style="display:inline-block;transform:scaleX(0.971);transform-origin:right center;">-11,2</span></div>
<div class="t" style="left:261.3px;width:48.2px;top:597.7px;height:14.4px;line-height:14.4px;font-size:12px;font-family:'Liberation Sans',sans-serif;color:#111;text-align:right;">-4,5</div>
<div class="t" style="left:281.3px;width:30.1px;top:637.3px;height:16.8px;line-height:16.8px;font-size:14px;font-family:'Liberation Sans',sans-serif;color:#111;text-align:center;"><span style="display:inline-block;transform:scaleX(0.9);transform-origin:center center;">O</span></div>
<div class="t" style="left:311.4px;width:30.1px;top:490.0px;height:14.4px;line-height:14.4px;font-size:12px;font-family:'Liberation Sans',sans-serif;color:#111;text-align:center;">10.</div>
<div class="t" style="left:291.4px;width:48.2px;top:513.1px;height:13.2px;line-height:13.2px;font-size:11px;font-family:'Liberation Sans',sans-serif;color:#111;text-align:right;"><span style="display:inline-block;transform:scaleX(1.04);transform-origin:right center;">-9,8</span></div>
<div class="t" style="left:291.4px;width:48.2px;top:554.9px;height:14.4px;line-height:14.4px;font-size:12px;font-family:'Liberation Sans',sans-serif;color:#111;text-align:right;">0,4</div>
<div class="t" style="left:291.4px;width:48.2px;top:576.4px;height:14.4px;line-height:14.4px;font-size:12px;font-family:'Liberation Sans',sans-serif;color:#111;text-align:right;">-8,8</div>
<div class="t" style="left:291.4px;width:48.2px;top:597.7px;height:14.4px;line-height:14.4px;font-size:12px;font-family:'Liberation Sans',sans-serif;color:#111;text-align:right;">-4,2</div>
<div class="t" style="left:311.4px;width:30.1px;top:637.3px;height:16.8px;line-height:16.8px;font-size:14px;font-family:'Liberation Sans',sans-serif;color:#111;text-align:center;"><span style="display:inline-block;transform:scaleX(0.9);transform-origin:center center;">B</span></div>
<div class="t" style="left:341.5px;width:30.3px;top:490.0px;height:14.4px;line-height:14.4px;font-size:12px;font-family:'Liberation Sans',sans-serif;color:#111;text-align:center;">11.</div>
<div class="t" style="left:321.5px;width:48.4px;top:513.1px;height:13.2px;line-height:13.2px;font-size:11px;font-family:'Liberation Sans',sans-serif;color:#111;text-align:right;"><span style="display:inline-block;transform:scaleX(1.04);transform-origin:right center;">-4,7</span></div>
<div class="t" style="left:321.5px;width:48.4px;top:554.9px;height:14.4px;line-height:14.4px;font-size:12px;font-family:'Liberation Sans',sans-serif;color:#111;text-align:right;">3,1</div>
<div class="t" style="left:321.5px;width:48.4px;top:576.4px;height:14.4px;line-height:14.4px;font-size:12px;font-family:'Liberation Sans',sans-serif;color:#111;text-align:right;">-3,4</div>
<div class="t" style="left:321.5px;width:48.4px;top:597.7px;height:14.4px;line-height:14.4px;font-size:12px;font-family:'Liberation Sans',sans-serif;color:#111;text-align:right;">-0,2</div>
<div class="t" style="left:341.5px;width:30.3px;top:637.3px;height:16.8px;line-height:16.8px;font-size:14px;font-family:'Liberation Sans',sans-serif;color:#111;text-align:center;"><span style="display:inline-block;transform:scaleX(0.9);transform-origin:center center;">B</span></div>
<div class="t" style="left:341.5px;width:30.3px;top:679.9px;height:16.8px;line-height:16.8px;font-size:14px;font-family:'Liberation Sans',sans-serif;color:#111;text-align:center;"><span style="display:inline-block;transform:scaleX(0.9);transform-origin:center center;">N</span></div>
<div class="t" style="left:371.8px;width:33.4px;top:490.0px;height:14.4px;line-height:14.4px;font-size:12px;font-family:'Liberation Sans',sans-serif;color:#f00;text-align:center;font-weight:bold;">12.</div>
<div class="t" style="left:351.8px;width:51.5px;top:513.1px;height:13.2px;line-height:13.2px;font-size:11px;font-family:'Liberation Sans',sans-serif;color:#111;text-align:right;"><span style="display:inline-block;transform:scaleX(1.04);transform-origin:right center;">-1,8</span></div>
<div class="t" style="left:351.8px;width:51.5px;top:533.6px;height:14.4px;line-height:14.4px;font-size:12px;font-family:'Liberation Sans',sans-serif;color:#111;text-align:right;">0,1</div>
<div class="t" style="left:351.8px;width:51.5px;top:554.9px;height:14.4px;line-height:14.4px;font-size:12px;font-family:'Liberation Sans',sans-serif;color:#111;text-align:right;">5,9</div>
<div class="t" style="left:351.8px;width:51.5px;top:576.4px;height:14.4px;line-height:14.4px;font-size:12px;font-family:'Liberation Sans',sans-serif;color:#111;text-align:right;">-0,8</div>
<div class="t" style="left:351.8px;width:51.5px;top:597.7px;height:14.4px;line-height:14.4px;font-size:12px;font-family:'Liberation Sans',sans-serif;color:#111;text-align:right;">2,6</div>
<div class="t" style="left:371.8px;width:33.4px;top:637.3px;height:16.8px;line-height:16.8px;font-size:14px;font-family:'Liberation Sans',sans-serif;color:#111;text-align:center;"><span style="display:inline-block;transform:scaleX(0.9);transform-origin:center center;">B</span></div>
<div class="t" style="left:371.8px;width:33.4px;top:658.7px;height:16.8px;line-height:16.8px;font-size:14px;font-family:'Liberation Sans',sans-serif;color:#111;text-align:center;"><span style="display:inline-block;transform:scaleX(0.9);transform-origin:center center;">R</span></div>
<div class="t" style="left:371.8px;width:33.4px;top:679.9px;height:16.8px;line-height:16.8px;font-size:14px;font-family:'Liberation Sans',sans-serif;color:#111;text-align:center;"><span style="display:inline-block;transform:scaleX(0.9);transform-origin:center center;">N</span></div>
<div class="t" style="left:405.2px;width:30.4px;top:490.0px;height:14.4px;line-height:14.4px;font-size:12px;font-family:'Liberation Sans',sans-serif;color:#111;text-align:center;">13.</div>
<div class="t" style="left:385.2px;width:48.5px;top:513.1px;height:13.2px;line-height:13.2px;font-size:11px;font-family:'Liberation Sans',sans-serif;color:#111;text-align:right;"><span style="display:inline-block;transform:scaleX(1.04);transform-origin:right center;">-4,4</span></div>
<div class="t" style="left:385.2px;width:48.5px;top:554.9px;height:14.4px;line-height:14.4px;font-size:12px;font-family:'Liberation Sans',sans-serif;color:#111;text-align:right;">8,0</div>
<div class="t" style="left:385.2px;width:48.5px;top:576.4px;height:14.4px;line-height:14.4px;font-size:12px;font-family:'Liberation Sans',sans-serif;color:#111;text-align:right;">-2,9</div>
<div class="t" style="left:385.2px;width:48.5px;top:597.7px;height:14.4px;line-height:14.4px;font-size:12px;font-family:'Liberation Sans',sans-serif;color:#111;text-align:right;">2,6</div>
<div class="t" style="left:405.2px;width:30.4px;top:637.3px;height:16.8px;line-height:16.8px;font-size:14px;font-family:'Liberation Sans',sans-serif;color:#111;text-align:center;"><span style="display:inline-block;transform:scaleX(0.9);transform-origin:center center;">H</span></div>
<div class="t" style="left:405.2px;width:30.4px;top:679.9px;height:16.8px;line-height:16.8px;font-size:14px;font-family:'Liberation Sans',sans-serif;color:#111;text-align:center;"><span style="display:inline-block;transform:scaleX(0.9);transform-origin:center center;">N</span></div>
<div class="t" style="left:435.6px;width:30.2px;top:490.0px;height:14.4px;line-height:14.4px;font-size:12px;font-family:'Liberation Sans',sans-serif;color:#111;text-align:center;">14.</div>
<div class="t" style="left:415.6px;width:48.3px;top:513.1px;height:13.2px;line-height:13.2px;font-size:11px;font-family:'Liberation Sans',sans-serif;color:#111;text-align:right;"><span style="display:inline-block;transform:scaleX(1.04);transform-origin:right center;">-5,7</span></div>
<div class="t" style="left:415.6px;width:48.3px;top:554.9px;height:14.4px;line-height:14.4px;font-size:12px;font-family:'Liberation Sans',sans-serif;color:#111;text-align:right;">2,2</div>
<div class="t" style="left:415.6px;width:48.3px;top:576.4px;height:14.4px;line-height:14.4px;font-size:12px;font-family:'Liberation Sans',sans-serif;color:#111;text-align:right;">-4,4</div>
<div class="t" style="left:415.6px;width:48.3px;top:597.7px;height:14.4px;line-height:14.4px;font-size:12px;font-family:'Liberation Sans',sans-serif;color:#111;text-align:right;">-1,1</div>
<div class="t" style="left:435.6px;width:30.2px;top:637.3px;height:16.8px;line-height:16.8px;font-size:14px;font-family:'Liberation Sans',sans-serif;color:#111;text-align:center;"><span style="display:inline-block;transform:scaleX(0.9);transform-origin:center center;">B</span></div>
<div class="t" style="left:435.6px;width:30.2px;top:679.9px;height:16.8px;line-height:16.8px;font-size:14px;font-family:'Liberation Sans',sans-serif;color:#111;text-align:center;"><span style="display:inline-block;transform:scaleX(0.9);transform-origin:center center;">N</span></div>
<div class="t" style="left:465.8px;width:30.4px;top:490.0px;height:14.4px;line-height:14.4px;font-size:12px;font-family:'Liberation Sans',sans-serif;color:#111;text-align:center;">15.</div>
<div class="t" style="left:445.8px;width:48.5px;top:513.1px;height:13.2px;line-height:13.2px;font-size:11px;font-family:'Liberation Sans',sans-serif;color:#111;text-align:right;"><span style="display:inline-block;transform:scaleX(1.04);transform-origin:right center;">-4,0</span></div>
<div class="t" style="left:445.8px;width:48.5px;top:554.9px;height:14.4px;line-height:14.4px;font-size:12px;font-family:'Liberation Sans',sans-serif;color:#111;text-align:right;">4,4</div>
<div class="t" style="left:445.8px;width:48.5px;top:576.4px;height:14.4px;line-height:14.4px;font-size:12px;font-family:'Liberation Sans',sans-serif;color:#111;text-align:right;">-3,2</div>
<div class="t" style="left:445.8px;width:48.5px;top:597.7px;height:14.4px;line-height:14.4px;font-size:12px;font-family:'Liberation Sans',sans-serif;color:#111;text-align:right;">0,6</div>
<div class="t" style="left:465.8px;width:30.4px;top:637.3px;height:16.8px;line-height:16.8px;font-size:14px;font-family:'Liberation Sans',sans-serif;color:#111;text-align:center;"><span style="display:inline-block;transform:scaleX(0.9);transform-origin:center center;">B</span></div>
<div class="t" style="left:465.8px;width:30.4px;top:679.9px;height:16.8px;line-height:16.8px;font-size:14px;font-family:'Liberation Sans',sans-serif;color:#111;text-align:center;"><span style="display:inline-block;transform:scaleX(0.9);transform-origin:center center;">N</span></div>
<div class="t" style="left:496.2px;width:30.1px;top:490.0px;height:14.4px;line-height:14.4px;font-size:12px;font-family:'Liberation Sans',sans-serif;color:#111;text-align:center;">16.</div>
<div class="t" style="left:476.2px;width:48.2px;top:513.1px;height:13.2px;line-height:13.2px;font-size:11px;font-family:'Liberation Sans',sans-serif;color:#111;text-align:right;"><span style="display:inline-block;transform:scaleX(1.04);transform-origin:right center;">-5,9</span></div>
<div class="t" style="left:476.2px;width:48.2px;top:533.6px;height:14.4px;line-height:14.4px;font-size:12px;font-family:'Liberation Sans',sans-serif;color:#111;text-align:right;">0,1</div>
<div class="t" style="left:476.2px;width:48.2px;top:554.9px;height:14.4px;line-height:14.4px;font-size:12px;font-family:'Liberation Sans',sans-serif;color:#111;text-align:right;">9,2</div>
<div class="t" style="left:476.2px;width:48.2px;top:576.4px;height:14.4px;line-height:14.4px;font-size:12px;font-family:'Liberation Sans',sans-serif;color:#111;text-align:right;">-5,0</div>
<div class="t" style="left:476.2px;width:48.2px;top:597.7px;height:14.4px;line-height:14.4px;font-size:12px;font-family:'Liberation Sans',sans-serif;color:#111;text-align:right;">2,1</div>
<div class="t" style="left:496.2px;width:30.1px;top:637.3px;height:16.8px;line-height:16.8px;font-size:14px;font-family:'Liberation Sans',sans-serif;color:#111;text-align:center;"><span style="display:inline-block;transform:scaleX(0.9);transform-origin:center center;">H</span></div>
<div class="t" style="left:496.2px;width:30.1px;top:658.7px;height:16.8px;line-height:16.8px;font-size:14px;font-family:'Liberation Sans',sans-serif;color:#111;text-align:center;"><span style="display:inline-block;transform:scaleX(0.9);transform-origin:center center;">R</span></div>
<div class="t" style="left:496.2px;width:30.1px;top:679.9px;height:16.8px;line-height:16.8px;font-size:14px;font-family:'Liberation Sans',sans-serif;color:#111;text-align:center;"><span style="display:inline-block;transform:scaleX(0.9);transform-origin:center center;">N</span></div>
<div class="t" style="left:526.3px;width:30.1px;top:490.0px;height:14.4px;line-height:14.4px;font-size:12px;font-family:'Liberation Sans',sans-serif;color:#111;text-align:center;">17.</div>
<div class="t" style="left:506.3px;width:48.2px;top:513.1px;height:13.2px;line-height:13.2px;font-size:11px;font-family:'Liberation Sans',sans-serif;color:#111;text-align:right;"><span style="display:inline-block;transform:scaleX(1.04);transform-origin:right center;">2,2</span></div>
<div class="t" style="left:506.3px;width:48.2px;top:533.6px;height:14.4px;line-height:14.4px;font-size:12px;font-family:'Liberation Sans',sans-serif;color:#111;text-align:right;">1,4</div>
<div class="t" style="left:506.3px;width:48.2px;top:554.9px;height:14.4px;line-height:14.4px;font-size:12px;font-family:'Liberation Sans',sans-serif;color:#111;text-align:right;">10,0</div>
<div class="t" style="left:506.3px;width:48.2px;top:576.4px;height:14.4px;line-height:14.4px;font-size:12px;font-family:'Liberation Sans',sans-serif;color:#111;text-align:right;">3,7</div>
<div class="t" style="left:506.3px;width:48.2px;top:597.7px;height:14.4px;line-height:14.4px;font-size:12px;font-family:'Liberation Sans',sans-serif;color:#111;text-align:right;">6,9</div>
<div class="t" style="left:526.3px;width:30.1px;top:637.3px;height:16.8px;line-height:16.8px;font-size:14px;font-family:'Liberation Sans',sans-serif;color:#111;text-align:center;"><span style="display:inline-block;transform:scaleX(0.9);transform-origin:center center;">B</span></div>
<div class="t" style="left:526.3px;width:30.1px;top:658.7px;height:16.8px;line-height:16.8px;font-size:14px;font-family:'Liberation Sans',sans-serif;color:#111;text-align:center;"><span style="display:inline-block;transform:scaleX(0.9);transform-origin:center center;">R</span></div>
<div class="t" style="left:556.4px;width:30.2px;top:490.0px;height:14.4px;line-height:14.4px;font-size:12px;font-family:'Liberation Sans',sans-serif;color:#111;text-align:center;">18.</div>
<div class="t" style="left:536.4px;width:48.3px;top:513.1px;height:13.2px;line-height:13.2px;font-size:11px;font-family:'Liberation Sans',sans-serif;color:#111;text-align:right;"><span style="display:inline-block;transform:scaleX(1.04);transform-origin:right center;">6,8</span></div>
<div class="t" style="left:536.4px;width:48.3px;top:533.6px;height:14.4px;line-height:14.4px;font-size:12px;font-family:'Liberation Sans',sans-serif;color:#111;text-align:right;">5,8</div>
<div class="t" style="left:536.4px;width:48.3px;top:554.9px;height:14.4px;line-height:14.4px;font-size:12px;font-family:'Liberation Sans',sans-serif;color:#111;text-align:right;">10,1</div>
<div class="t" style="left:536.4px;width:48.3px;top:576.4px;height:14.4px;line-height:14.4px;font-size:12px;font-family:'Liberation Sans',sans-serif;color:#111;text-align:right;">7,6</div>
<div class="t" style="left:536.4px;width:48.3px;top:597.7px;height:14.4px;line-height:14.4px;font-size:12px;font-family:'Liberation Sans',sans-serif;color:#111;text-align:right;">8,9</div>
<div class="t" style="left:556.4px;width:30.2px;top:637.3px;height:16.8px;line-height:16.8px;font-size:14px;font-family:'Liberation Sans',sans-serif;color:#111;text-align:center;"><span style="display:inline-block;transform:scaleX(0.9);transform-origin:center center;">B</span></div>
<div class="t" style="left:556.4px;width:30.2px;top:658.7px;height:16.8px;line-height:16.8px;font-size:14px;font-family:'Liberation Sans',sans-serif;color:#111;text-align:center;"><span style="display:inline-block;transform:scaleX(0.9);transform-origin:center center;">R</span></div>
<div class="t" style="left:586.6px;width:30.4px;top:490.0px;height:14.4px;line-height:14.4px;font-size:12px;font-family:'Liberation Sans',sans-serif;color:#f00;text-align:center;font-weight:bold;">19.</div>
<div class="t" style="left:566.6px;width:48.5px;top:513.1px;height:13.2px;line-height:13.2px;font-size:11px;font-family:'Liberation Sans',sans-serif;color:#111;text-align:right;"><span style="display:inline-block;transform:scaleX(1.04);transform-origin:right center;">5,4</span></div>
<div class="t" style="left:566.6px;width:48.5px;top:533.6px;height:14.4px;line-height:14.4px;font-size:12px;font-family:'Liberation Sans',sans-serif;color:#111;text-align:right;">9,0</div>
<div class="t" style="left:566.6px;width:48.5px;top:554.9px;height:14.4px;line-height:14.4px;font-size:12px;font-family:'Liberation Sans',sans-serif;color:#111;text-align:right;">8,9</div>
<div class="t" style="left:566.6px;width:48.5px;top:576.4px;height:14.4px;line-height:14.4px;font-size:12px;font-family:'Liberation Sans',sans-serif;color:#111;text-align:right;">5,8</div>
<div class="t" style="left:566.6px;width:48.5px;top:597.7px;height:14.4px;line-height:14.4px;font-size:12px;font-family:'Liberation Sans',sans-serif;color:#111;text-align:right;">7,4</div>
<div class="t" style="left:586.6px;width:30.4px;top:637.3px;height:16.8px;line-height:16.8px;font-size:14px;font-family:'Liberation Sans',sans-serif;color:#111;text-align:center;"><span style="display:inline-block;transform:scaleX(0.9);transform-origin:center center;">B</span></div>
<div class="t" style="left:586.6px;width:30.4px;top:658.7px;height:16.8px;line-height:16.8px;font-size:14px;font-family:'Liberation Sans',sans-serif;color:#111;text-align:center;"><span style="display:inline-block;transform:scaleX(0.9);transform-origin:center center;">R</span></div>
<div class="t" style="left:617.0px;width:33.5px;top:490.0px;height:14.4px;line-height:14.4px;font-size:12px;font-family:'Liberation Sans',sans-serif;color:#111;text-align:center;">20.</div>
<div class="t" style="left:597.0px;width:51.6px;top:513.1px;height:13.2px;line-height:13.2px;font-size:11px;font-family:'Liberation Sans',sans-serif;color:#111;text-align:right;"><span style="display:inline-block;transform:scaleX(1.04);transform-origin:right center;">2,5</span></div>
<div class="t" style="left:597.0px;width:51.6px;top:533.6px;height:14.4px;line-height:14.4px;font-size:12px;font-family:'Liberation Sans',sans-serif;color:#111;text-align:right;">0,1</div>
<div class="t" style="left:597.0px;width:51.6px;top:554.9px;height:14.4px;line-height:14.4px;font-size:12px;font-family:'Liberation Sans',sans-serif;color:#111;text-align:right;">11,7</div>
<div class="t" style="left:597.0px;width:51.6px;top:576.4px;height:14.4px;line-height:14.4px;font-size:12px;font-family:'Liberation Sans',sans-serif;color:#111;text-align:right;">5,1</div>
<div class="t" style="left:597.0px;width:51.6px;top:597.7px;height:14.4px;line-height:14.4px;font-size:12px;font-family:'Liberation Sans',sans-serif;color:#111;text-align:right;">8,4</div>
<div class="t" style="left:617.0px;width:33.5px;top:637.3px;height:16.8px;line-height:16.8px;font-size:14px;font-family:'Liberation Sans',sans-serif;color:#111;text-align:center;"><span style="display:inline-block;transform:scaleX(0.9);transform-origin:center center;">H</span></div>
<div class="t" style="left:617.0px;width:33.5px;top:658.7px;height:16.8px;line-height:16.8px;font-size:14px;font-family:'Liberation Sans',sans-serif;color:#111;text-align:center;"><span style="display:inline-block;transform:scaleX(0.9);transform-origin:center center;">R</span></div>
<div class="t" style="left:650.5px;width:30.0px;top:490.0px;height:14.4px;line-height:14.4px;font-size:12px;font-family:'Liberation Sans',sans-serif;color:#111;text-align:center;">21.</div>
<div class="t" style="left:630.5px;width:48.1px;top:513.1px;height:13.2px;line-height:13.2px;font-size:11px;font-family:'Liberation Sans',sans-serif;color:#111;text-align:right;"><span style="display:inline-block;transform:scaleX(1.04);transform-origin:right center;">1,9</span></div>
<div class="t" style="left:630.5px;width:48.1px;top:554.9px;height:14.4px;line-height:14.4px;font-size:12px;font-family:'Liberation Sans',sans-serif;color:#111;text-align:right;">12,2</div>
<div class="t" style="left:630.5px;width:48.1px;top:576.4px;height:14.4px;line-height:14.4px;font-size:12px;font-family:'Liberation Sans',sans-serif;color:#111;text-align:right;">3,6</div>
<div class="t" style="left:630.5px;width:48.1px;top:597.7px;height:14.4px;line-height:14.4px;font-size:12px;font-family:'Liberation Sans',sans-serif;color:#111;text-align:right;">7,9</div>
<div class="t" style="left:650.5px;width:30.0px;top:637.3px;height:16.8px;line-height:16.8px;font-size:14px;font-family:'Liberation Sans',sans-serif;color:#111;text-align:center;"><span style="display:inline-block;transform:scaleX(0.9);transform-origin:center center;">H</span></div>
<div class="t" style="left:680.5px;width:30.4px;top:490.0px;height:14.4px;line-height:14.4px;font-size:12px;font-family:'Liberation Sans',sans-serif;color:#111;text-align:center;">22.</div>
<div class="t" style="left:660.5px;width:48.5px;top:513.1px;height:13.2px;line-height:13.2px;font-size:11px;font-family:'Liberation Sans',sans-serif;color:#111;text-align:right;"><span style="display:inline-block;transform:scaleX(1.04);transform-origin:right center;">-1,1</span></div>
<div class="t" style="left:660.5px;width:48.5px;top:554.9px;height:14.4px;line-height:14.4px;font-size:12px;font-family:'Liberation Sans',sans-serif;color:#111;text-align:right;">14,1</div>
<div class="t" style="left:660.5px;width:48.5px;top:576.4px;height:14.4px;line-height:14.4px;font-size:12px;font-family:'Liberation Sans',sans-serif;color:#111;text-align:right;">-0,1</div>
<div class="t" style="left:660.5px;width:48.5px;top:597.7px;height:14.4px;line-height:14.4px;font-size:12px;font-family:'Liberation Sans',sans-serif;color:#111;text-align:right;">7,0</div>
<div class="t" style="left:680.5px;width:30.4px;top:637.3px;height:16.8px;line-height:16.8px;font-size:14px;font-family:'Liberation Sans',sans-serif;color:#111;text-align:center;"><span style="display:inline-block;transform:scaleX(0.9);transform-origin:center center;">H</span></div>
<div class="t" style="left:710.9px;width:30.3px;top:490.0px;height:14.4px;line-height:14.4px;font-size:12px;font-family:'Liberation Sans',sans-serif;color:#111;text-align:center;">23.</div>
<div class="t" style="left:690.9px;width:48.4px;top:513.1px;height:13.2px;line-height:13.2px;font-size:11px;font-family:'Liberation Sans',sans-serif;color:#111;text-align:right;"><span style="display:inline-block;transform:scaleX(1.04);transform-origin:right center;">2,5</span></div>
<div class="t" style="left:690.9px;width:48.4px;top:533.6px;height:14.4px;line-height:14.4px;font-size:12px;font-family:'Liberation Sans',sans-serif;color:#111;text-align:right;">0,9</div>
<div class="t" style="left:690.9px;width:48.4px;top:554.9px;height:14.4px;line-height:14.4px;font-size:12px;font-family:'Liberation Sans',sans-serif;color:#111;text-align:right;">10,0</div>
<div class="t" style="left:690.9px;width:48.4px;top:576.4px;height:14.4px;line-height:14.4px;font-size:12px;font-family:'Liberation Sans',sans-serif;color:#111;text-align:right;">3,5</div>
<div class="t" style="left:690.9px;width:48.4px;top:597.7px;height:14.4px;line-height:14.4px;font-size:12px;font-family:'Liberation Sans',sans-serif;color:#111;text-align:right;">6,8</div>
<div class="t" style="left:710.9px;width:30.3px;top:637.3px;height:16.8px;line-height:16.8px;font-size:14px;font-family:'Liberation Sans',sans-serif;color:#111;text-align:center;"><span style="display:inline-block;transform:scaleX(0.9);transform-origin:center center;">B</span></div>
<div class="t" style="left:710.9px;width:30.3px;top:658.7px;height:16.8px;line-height:16.8px;font-size:14px;font-family:'Liberation Sans',sans-serif;color:#111;text-align:center;"><span style="display:inline-block;transform:scaleX(0.9);transform-origin:center center;">R</span></div>
<div class="t" style="left:741.2px;width:30.4px;top:490.0px;height:14.4px;line-height:14.4px;font-size:12px;font-family:'Liberation Sans',sans-serif;color:#111;text-align:center;">24.</div>
<div class="t" style="left:721.2px;width:48.5px;top:513.1px;height:13.2px;line-height:13.2px;font-size:11px;font-family:'Liberation Sans',sans-serif;color:#111;text-align:right;"><span style="display:inline-block;transform:scaleX(1.04);transform-origin:right center;">0,4</span></div>
<div class="t" style="left:721.2px;width:48.5px;top:533.6px;height:14.4px;line-height:14.4px;font-size:12px;font-family:'Liberation Sans',sans-serif;color:#111;text-align:right;">4,3</div>
<div class="t" style="left:721.2px;width:48.5px;top:554.9px;height:14.4px;line-height:14.4px;font-size:12px;font-family:'Liberation Sans',sans-serif;color:#111;text-align:right;">7,3</div>
<div class="t" style="left:721.2px;width:48.5px;top:576.4px;height:14.4px;line-height:14.4px;font-size:12px;font-family:'Liberation Sans',sans-serif;color:#111;text-align:right;">1,0</div>
<div class="t" style="left:721.2px;width:48.5px;top:597.7px;height:14.4px;line-height:14.4px;font-size:12px;font-family:'Liberation Sans',sans-serif;color:#111;text-align:right;">4,2</div>
<div class="t" style="left:741.2px;width:30.4px;top:637.3px;height:16.8px;line-height:16.8px;font-size:14px;font-family:'Liberation Sans',sans-serif;color:#111;text-align:center;"><span style="display:inline-block;transform:scaleX(0.9);transform-origin:center center;">B</span></div>
<div class="t" style="left:741.2px;width:30.4px;top:658.7px;height:16.8px;line-height:16.8px;font-size:14px;font-family:'Liberation Sans',sans-serif;color:#111;text-align:center;"><span style="display:inline-block;transform:scaleX(0.9);transform-origin:center center;">R</span></div>
<div class="t" style="left:741.2px;width:30.4px;top:679.9px;height:16.8px;line-height:16.8px;font-size:14px;font-family:'Liberation Sans',sans-serif;color:#111;text-align:center;"><span style="display:inline-block;transform:scaleX(0.9);transform-origin:center center;">S</span></div>
<div class="t" style="left:771.6px;width:30.2px;top:490.0px;height:14.4px;line-height:14.4px;font-size:12px;font-family:'Liberation Sans',sans-serif;color:#111;text-align:center;">25.</div>
<div class="t" style="left:751.6px;width:48.3px;top:513.1px;height:13.2px;line-height:13.2px;font-size:11px;font-family:'Liberation Sans',sans-serif;color:#111;text-align:right;"><span style="display:inline-block;transform:scaleX(1.04);transform-origin:right center;">-6,2</span></div>
<div class="t" style="left:751.6px;width:48.3px;top:533.6px;height:14.4px;line-height:14.4px;font-size:12px;font-family:'Liberation Sans',sans-serif;color:#111;text-align:right;">3,9</div>
<div class="t" style="left:751.6px;width:48.3px;top:554.9px;height:14.4px;line-height:14.4px;font-size:12px;font-family:'Liberation Sans',sans-serif;color:#111;text-align:right;">3,3</div>
<div class="t" style="left:751.6px;width:48.3px;top:576.4px;height:14.4px;line-height:14.4px;font-size:12px;font-family:'Liberation Sans',sans-serif;color:#111;text-align:right;">-3,4</div>
<div class="t" style="left:751.6px;width:48.3px;top:597.7px;height:14.4px;line-height:14.4px;font-size:12px;font-family:'Liberation Sans',sans-serif;color:#111;text-align:right;">-0,1</div>
<div class="t" style="left:771.6px;width:30.2px;top:637.3px;height:16.8px;line-height:16.8px;font-size:14px;font-family:'Liberation Sans',sans-serif;color:#111;text-align:center;"><span style="display:inline-block;transform:scaleX(0.9);transform-origin:center center;">B</span></div>
<div class="t" style="left:771.6px;width:30.2px;top:679.9px;height:16.8px;line-height:16.8px;font-size:14px;font-family:'Liberation Sans',sans-serif;color:#111;text-align:center;"><span style="display:inline-block;transform:scaleX(0.9);transform-origin:center center;">S</span></div>
<div class="t" style="left:771.6px;width:30.2px;top:700.9px;height:16.8px;line-height:16.8px;font-size:14px;font-family:'Liberation Sans',sans-serif;color:#111;text-align:center;"><span style="display:inline-block;transform:scaleX(0.88);transform-origin:center center;">SD</span></div>
<div class="t" style="left:771.6px;width:30.2px;top:722.2px;height:16.8px;line-height:16.8px;font-size:14px;font-family:'Liberation Sans',sans-serif;color:#111;text-align:center;"><span style="display:inline-block;transform:scaleX(0.9);transform-origin:center center;">1</span></div>
<div class="t" style="left:771.6px;width:30.2px;top:743.5px;height:16.8px;line-height:16.8px;font-size:14px;font-family:'Liberation Sans',sans-serif;color:#111;text-align:center;"><span style="display:inline-block;transform:scaleX(0.9);transform-origin:center center;">1</span></div>
<div class="t" style="left:801.8px;width:30.4px;top:490.0px;height:14.4px;line-height:14.4px;font-size:12px;font-family:'Liberation Sans',sans-serif;color:#f00;text-align:center;font-weight:bold;">26.</div>
<div class="t" style="left:781.8px;width:48.5px;top:513.1px;height:13.2px;line-height:13.2px;font-size:11px;font-family:'Liberation Sans',sans-serif;color:#111;text-align:right;"><span style="display:inline-block;transform:scaleX(1.04);transform-origin:right center;">-7,3</span></div>
<div class="t" style="left:781.8px;width:48.5px;top:554.9px;height:14.4px;line-height:14.4px;font-size:12px;font-family:'Liberation Sans',sans-serif;color:#111;text-align:right;">0,8</div>
<div class="t" style="left:781.8px;width:48.5px;top:576.4px;height:14.4px;line-height:14.4px;font-size:12px;font-family:'Liberation Sans',sans-serif;color:#111;text-align:right;">-5,2</div>
<div class="t" style="left:781.8px;width:48.5px;top:597.7px;height:14.4px;line-height:14.4px;font-size:12px;font-family:'Liberation Sans',sans-serif;color:#111;text-align:right;">-2,2</div>
<div class="t" style="left:801.8px;width:30.4px;top:637.3px;height:16.8px;line-height:16.8px;font-size:14px;font-family:'Liberation Sans',sans-serif;color:#111;text-align:center;"><span style="display:inline-block;transform:scaleX(0.9);transform-origin:center center;">B</span></div>
<div class="t" style="left:801.8px;width:30.4px;top:700.9px;height:16.8px;line-height:16.8px;font-size:14px;font-family:'Liberation Sans',sans-serif;color:#111;text-align:center;"><span style="display:inline-block;transform:scaleX(0.88);transform-origin:center center;">SD</span></div>
<div class="t" style="left:801.8px;width:30.4px;top:722.2px;height:16.8px;line-height:16.8px;font-size:14px;font-family:'Liberation Sans',sans-serif;color:#111;text-align:center;"><span style="display:inline-block;transform:scaleX(0.9);transform-origin:center center;">1</span></div>
<div class="t" style="left:832.2px;width:30.0px;top:490.0px;height:14.4px;line-height:14.4px;font-size:12px;font-family:'Liberation Sans',sans-serif;color:#111;text-align:center;">27.</div>
<div class="t" style="left:812.2px;width:48.1px;top:513.1px;height:13.2px;line-height:13.2px;font-size:11px;font-family:'Liberation Sans',sans-serif;color:#111;text-align:right;"><span style="display:inline-block;transform:scaleX(1.04);transform-origin:right center;">-9,3</span></div>
<div class="t" style="left:812.2px;width:48.1px;top:554.9px;height:14.4px;line-height:14.4px;font-size:12px;font-family:'Liberation Sans',sans-serif;color:#111;text-align:right;">1,5</div>
<div class="t" style="left:812.2px;width:48.1px;top:576.4px;height:14.4px;line-height:14.4px;font-size:12px;font-family:'Liberation Sans',sans-serif;color:#111;text-align:right;">-8,4</div>
<div class="t" style="left:812.2px;width:48.1px;top:597.7px;height:14.4px;line-height:14.4px;font-size:12px;font-family:'Liberation Sans',sans-serif;color:#111;text-align:right;">-3,5</div>
<div class="t" style="left:832.2px;width:30.0px;top:637.3px;height:16.8px;line-height:16.8px;font-size:14px;font-family:'Liberation Sans',sans-serif;color:#111;text-align:center;"><span style="display:inline-block;transform:scaleX(0.9);transform-origin:center center;">H</span></div>
<div class="t" style="left:862.2px;width:30.1px;top:490.0px;height:14.4px;line-height:14.4px;font-size:12px;font-family:'Liberation Sans',sans-serif;color:#111;text-align:center;">28.</div>
<div class="t" style="left:842.2px;width:48.2px;top:513.1px;height:13.2px;line-height:13.2px;font-size:11px;font-family:'Liberation Sans',sans-serif;color:#111;text-align:right;"><span style="display:inline-block;transform:scaleX(1.04);transform-origin:right center;">-8,6</span></div>
<div class="t" style="left:842.2px;width:48.2px;top:554.9px;height:14.4px;line-height:14.4px;font-size:12px;font-family:'Liberation Sans',sans-serif;color:#111;text-align:right;">3,8</div>
<div class="t" style="left:842.2px;width:48.2px;top:576.4px;height:14.4px;line-height:14.4px;font-size:12px;font-family:'Liberation Sans',sans-serif;color:#111;text-align:right;">-8,2</div>
<div class="t" style="left:842.2px;width:48.2px;top:597.7px;height:14.4px;line-height:14.4px;font-size:12px;font-family:'Liberation Sans',sans-serif;color:#111;text-align:right;">-2,2</div>
<div class="t" style="left:862.2px;width:30.1px;top:637.3px;height:16.8px;line-height:16.8px;font-size:14px;font-family:'Liberation Sans',sans-serif;color:#111;text-align:center;"><span style="display:inline-block;transform:scaleX(0.9);transform-origin:center center;">H</span></div>
<div class="t" style="left:0.0px;width:40.0px;top:508.8px;height:17.4px;line-height:17.4px;font-size:14.5px;font-family:'Liberation Sans',sans-serif;color:#111;text-align:center;font-weight:bold;"><span style="display:inline-block;transform:scaleX(0.9);transform-origin:center center;">°C</span></div>
<div class="t" style="left:0.0px;width:40.0px;top:551.1px;height:17.4px;line-height:17.4px;font-size:14.5px;font-family:'Liberation Sans',sans-serif;color:#111;text-align:center;font-weight:bold;"><span style="display:inline-block;transform:scaleX(0.9);transform-origin:center center;">°C</span></div>
<div class="t" style="left:0.0px;width:40.0px;top:572.6px;height:17.4px;line-height:17.4px;font-size:14.5px;font-family:'Liberation Sans',sans-serif;color:#111;text-align:center;font-weight:bold;"><span style="display:inline-block;transform:scaleX(0.9);transform-origin:center center;">°C</span></div>
<div class="t" style="left:0.0px;width:40.0px;top:593.9px;height:17.4px;line-height:17.4px;font-size:14.5px;font-family:'Liberation Sans',sans-serif;color:#111;text-align:center;font-weight:bold;"><span style="display:inline-block;transform:scaleX(0.9);transform-origin:center center;">°C</span></div>
<div class="t" style="left:0.0px;width:39.5px;top:528.5px;height:19.2px;line-height:19.2px;font-size:16px;font-family:'Liberation Sans',sans-serif;color:#111;text-align:center;font-weight:bold;">l/m²</div>
<div class="t" style="left:-79.6px;top:667.4px;width:200px;height:18.0px;line-height:18.0px;font-size:15px;font-family:'Liberation Sans',sans-serif;text-align:center;transform:rotate(-90deg) scaleX(1.07);font-weight:bold;">Wetter</div>
<div class="t" style="left:-79.8px;top:732.1px;width:200px;height:14.4px;line-height:14.4px;font-size:12px;font-family:'Liberation Sans',sans-serif;text-align:center;transform:rotate(-90deg) scaleX(0.95);font-weight:bold;">Schnee</div>
<div class="t" style="left:-172.2px;width:1000.0px;top:764.6px;height:18.0px;line-height:18.0px;font-size:15px;font-family:'Liberation Serif',serif;color:#111;text-align:center;"><span style="display:inline-block;transform:scaleX(1.056);transform-origin:center center;">Datenerfassung:&nbsp; Standort -&nbsp; 95496&nbsp; Glashütten, Altenhimmelstr. 37</span></div>
<div class="t" style="left:456.4px;width:1000.0px;top:765.4px;height:16.8px;line-height:16.8px;font-size:14px;font-family:'Liberation Sans',sans-serif;color:#111;text-align:center;"><span style="display:inline-block;transform:scaleX(1.06);transform-origin:center center;">Koordinaten:&nbsp; 49° 52' 48' Nord,&nbsp;&nbsp; 11° 27' 04'' Ost&nbsp;&nbsp; 440 m ü. NN</span></div>
<div class="t" style="left:574.2px;width:1000.0px;top:2.8px;height:19.2px;line-height:19.2px;font-size:16px;font-family:'Liberation Sans',sans-serif;color:#111;text-align:center;font-weight:bold;"><span style="display:inline-block;transform:scaleX(0.995);transform-origin:center center;">Februar 2023</span></div>
<div class="t" style="left:564.6px;width:1000.0px;top:29.6px;height:12.0px;line-height:12.0px;font-size:10px;font-family:'Liberation Sans',sans-serif;color:#111;text-align:center;font-weight:bold;"><span style="display:inline-block;transform:scaleX(1.006);transform-origin:center center;">Maximale</span></div>
<div class="t" style="left:564.2px;width:1000.0px;top:44.9px;height:12.0px;line-height:12.0px;font-size:10px;font-family:'Liberation Sans',sans-serif;color:#111;text-align:center;font-weight:bold;"><span style="display:inline-block;transform:scaleX(0.982);transform-origin:center center;">Windbeschwindigkeit</span></div>
<div class="t" style="left:494.5px;width:1000.0px;top:30.6px;height:10.8px;line-height:10.8px;font-size:9px;font-family:'Liberation Sans',sans-serif;color:#222;text-align:center;"><span style="display:inline-block;transform:scaleX(0.904);transform-origin:center center;">m/s</span></div>
<div class="t" style="left:494.5px;width:1000.0px;top:51.5px;height:10.8px;line-height:10.8px;font-size:9px;font-family:'Liberation Sans',sans-serif;color:#222;text-align:center;"><span style="display:inline-block;transform:scaleX(0.918);transform-origin:center center;">km/h</span></div>
<div class="t" style="left:572.0px;width:1000.0px;top:68.9px;height:13.2px;line-height:13.2px;font-size:11px;font-family:'Liberation Sans',sans-serif;color:#111;text-align:center;font-weight:bold;"><span style="display:inline-block;transform:scaleX(0.902);transform-origin:center center;">Vorherrschende Windrichtung</span></div>
<div class="t" style="left:1103.7px;width:80.0px;top:24.0px;height:17.4px;line-height:17.4px;font-size:14.5px;font-family:'Liberation Sans',sans-serif;color:#111;text-align:center;font-weight:bold;"><span style="display:inline-block;transform:scaleX(0.93);transform-origin:center center;">16,9</span></div>
<div class="t" style="left:1103.7px;width:80.0px;top:45.2px;height:17.4px;line-height:17.4px;font-size:14.5px;font-family:'Liberation Sans',sans-serif;color:#111;text-align:center;font-weight:bold;"><span style="display:inline-block;transform:scaleX(0.93);transform-origin:center center;">61,0</span></div>
<div class="t" style="left:643.8px;width:1000.0px;top:86.3px;height:16.2px;line-height:16.2px;font-size:13.5px;font-family:'Liberation Sans',sans-serif;color:#111;text-align:center;"><span style="display:inline-block;transform:scaleX(1.041);transform-origin:center center;">Wert</span></div>
<div class="t" style="left:553.5px;width:1000.0px;top:103.5px;height:16.8px;line-height:16.8px;font-size:14px;font-family:'Liberation Sans',sans-serif;color:#111;text-align:center;"><span style="display:inline-block;transform:scaleX(0.927);transform-origin:center center;">Schneefalltage</span></div>
<div class="t" style="left:1103.7px;width:80.0px;top:103.8px;height:17.4px;line-height:17.4px;font-size:14.5px;font-family:'Liberation Sans',sans-serif;color:#111;text-align:center;font-weight:bold;"><span style="display:inline-block;transform:scaleX(0.93);transform-origin:center center;">7</span></div>
<div class="t" style="left:553.7px;width:1000.0px;top:124.0px;height:16.8px;line-height:16.8px;font-size:14px;font-family:'Liberation Sans',sans-serif;color:#111;text-align:center;"><span style="display:inline-block;transform:scaleX(0.918);transform-origin:center center;">Schneedeckentage</span></div>
<div class="t" style="left:1103.7px;width:80.0px;top:124.3px;height:17.4px;line-height:17.4px;font-size:14.5px;font-family:'Liberation Sans',sans-serif;color:#111;text-align:center;font-weight:bold;"><span style="display:inline-block;transform:scaleX(0.93);transform-origin:center center;">5</span></div>
<div class="t" style="left:553.5px;width:1000.0px;top:143.5px;height:18.6px;line-height:18.6px;font-size:15.5px;font-family:'Liberation Serif',serif;color:#111;text-align:center;"><span style="display:inline-block;transform:scaleX(0.955);transform-origin:center center;">Frosttage</span></div>
<div class="t" style="left:1103.7px;width:80.0px;top:144.7px;height:17.4px;line-height:17.4px;font-size:14.5px;font-family:'Liberation Sans',sans-serif;color:#111;text-align:center;font-weight:bold;"><span style="display:inline-block;transform:scaleX(0.93);transform-origin:center center;">18</span></div>
<div class="t" style="left:553.2px;width:1000.0px;top:164.8px;height:16.8px;line-height:16.8px;font-size:14px;font-family:'Liberation Sans',sans-serif;color:#111;text-align:center;"><span style="display:inline-block;transform:scaleX(0.891);transform-origin:center center;">Eistage</span></div>
<div class="t" style="left:1103.7px;width:80.0px;top:165.1px;height:17.4px;line-height:17.4px;font-size:14.5px;font-family:'Liberation Sans',sans-serif;color:#111;text-align:center;font-weight:bold;"><span style="display:inline-block;transform:scaleX(0.93);transform-origin:center center;">0</span></div>
<div class="t" style="left:553.2px;width:1000.0px;top:184.3px;height:18.6px;line-height:18.6px;font-size:15.5px;font-family:'Liberation Serif',serif;color:#111;text-align:center;"><span style="display:inline-block;transform:scaleX(0.944);transform-origin:center center;">Niederschlagstage</span></div>
<div class="t" style="left:1103.7px;width:80.0px;top:185.5px;height:17.4px;line-height:17.4px;font-size:14.5px;font-family:'Liberation Sans',sans-serif;color:#111;text-align:center;font-weight:bold;"><span style="display:inline-block;transform:scaleX(0.93);transform-origin:center center;">15</span></div>
<div class="t" style="left:553.3px;width:1000.0px;top:205.6px;height:16.8px;line-height:16.8px;font-size:14px;font-family:'Liberation Sans',sans-serif;color:#111;text-align:center;"><span style="display:inline-block;transform:scaleX(0.94);transform-origin:center center;">Stürmische Tage</span></div>
<div class="t" style="left:1103.7px;width:80.0px;top:205.9px;height:17.4px;line-height:17.4px;font-size:14.5px;font-family:'Liberation Sans',sans-serif;color:#111;text-align:center;font-weight:bold;"><span style="display:inline-block;transform:scaleX(0.93);transform-origin:center center;">0</span></div>
<div class="t" style="left:553.2px;width:1000.0px;top:225.6px;height:16.8px;line-height:16.8px;font-size:14px;font-family:'Liberation Sans',sans-serif;color:#111;text-align:center;"><span style="display:inline-block;transform:scaleX(0.935);transform-origin:center center;">Windige Tage</span></div>
<div class="t" style="left:1103.7px;width:80.0px;top:225.9px;height:17.4px;line-height:17.4px;font-size:14.5px;font-family:'Liberation Sans',sans-serif;color:#111;text-align:center;font-weight:bold;"><span style="display:inline-block;transform:scaleX(0.93);transform-origin:center center;">10</span></div>
<div class="t" style="left:553.0px;width:1000.0px;top:245.2px;height:16.8px;line-height:16.8px;font-size:14px;font-family:'Liberation Sans',sans-serif;color:#111;text-align:center;"><span style="display:inline-block;transform:scaleX(0.95);transform-origin:center center;">Sommertage</span></div>
<div class="t" style="left:1103.7px;width:80.0px;top:245.5px;height:17.4px;line-height:17.4px;font-size:14.5px;font-family:'Liberation Sans',sans-serif;color:#111;text-align:center;font-weight:bold;"><span style="display:inline-block;transform:scaleX(0.93);transform-origin:center center;">0</span></div>
<div class="t" style="left:553.7px;width:1000.0px;top:265.2px;height:16.8px;line-height:16.8px;font-size:14px;font-family:'Liberation Sans',sans-serif;color:#111;text-align:center;"><span style="display:inline-block;transform:scaleX(0.903);transform-origin:center center;">Heiße Tage</span></div>
<div class="t" style="left:1103.7px;width:80.0px;top:265.5px;height:17.4px;line-height:17.4px;font-size:14.5px;font-family:'Liberation Sans',sans-serif;color:#111;text-align:center;font-weight:bold;"><span style="display:inline-block;transform:scaleX(0.93);transform-origin:center center;">0</span></div>
<div class="t" style="left:554.0px;width:1000.0px;top:286.0px;height:16.8px;line-height:16.8px;font-size:14px;font-family:'Liberation Sans',sans-serif;color:#111;text-align:center;"><span style="display:inline-block;transform:scaleX(1.023);transform-origin:center center;">Mittleres</span></div>
<div class="t" style="left:553.3px;width:1000.0px;top:306.9px;height:16.8px;line-height:16.8px;font-size:14px;font-family:'Liberation Sans',sans-serif;color:#111;text-align:center;"><span style="display:inline-block;transform:scaleX(0.949);transform-origin:center center;">Tagesmaximum</span></div>
<div class="t" style="left:1103.7px;width:80.0px;top:296.1px;height:17.4px;line-height:17.4px;font-size:14.5px;font-family:'Liberation Sans',sans-serif;color:#111;text-align:center;font-weight:bold;"><span style="display:inline-block;transform:scaleX(0.93);transform-origin:center center;">5,5</span></div>
<div class="t" style="left:554.0px;width:1000.0px;top:327.2px;height:16.8px;line-height:16.8px;font-size:14px;font-family:'Liberation Sans',sans-serif;color:#111;text-align:center;"><span style="display:inline-block;transform:scaleX(1.023);transform-origin:center center;">Mittleres</span></div>
<div class="t" style="left:553.3px;width:1000.0px;top:347.9px;height:16.8px;line-height:16.8px;font-size:14px;font-family:'Liberation Sans',sans-serif;color:#111;text-align:center;"><span style="display:inline-block;transform:scaleX(0.971);transform-origin:center center;">Tagesminimum</span></div>
<div class="t" style="left:1103.7px;width:80.0px;top:337.9px;height:17.4px;line-height:17.4px;font-size:14.5px;font-family:'Liberation Sans',sans-serif;color:#111;text-align:center;font-weight:bold;"><span style="display:inline-block;transform:scaleX(0.93);transform-origin:center center;">-2,4</span></div>
<div class="t" style="left:553.3px;width:1000.0px;top:367.5px;height:16.8px;line-height:16.8px;font-size:14px;font-family:'Liberation Sans',sans-serif;color:#111;text-align:center;"><span style="display:inline-block;transform:scaleX(0.995);transform-origin:center center;">Wärmster Tag i. Mittel</span></div>
<div class="t" style="left:1103.7px;width:80.0px;top:367.9px;height:17.4px;line-height:17.4px;font-size:14.5px;font-family:'Liberation Sans',sans-serif;color:#111;text-align:center;font-weight:bold;"><span style="display:inline-block;transform:scaleX(0.93);transform-origin:center center;">8,9</span></div>
<div class="t" style="left:553.2px;width:1000.0px;top:388.2px;height:16.8px;line-height:16.8px;font-size:14px;font-family:'Liberation Sans',sans-serif;color:#111;text-align:center;"><span style="display:inline-block;transform:scaleX(0.983);transform-origin:center center;">Kältester Tag i. Mittel</span></div>
<div class="t" style="left:1103.7px;width:80.0px;top:388.7px;height:17.4px;line-height:17.4px;font-size:14.5px;font-family:'Liberation Sans',sans-serif;color:#111;text-align:center;font-weight:bold;"><span style="display:inline-block;transform:scaleX(0.93);transform-origin:center center;">-4,5</span></div>
<div class="t" style="left:553.8px;width:1000.0px;top:408.3px;height:16.8px;line-height:16.8px;font-size:14px;font-family:'Liberation Sans',sans-serif;color:#111;text-align:center;"><span style="display:inline-block;transform:scaleX(0.94);transform-origin:center center;">Max-Niederschlag</span></div>
<div class="t" style="left:1103.7px;width:80.0px;top:408.8px;height:17.4px;line-height:17.4px;font-size:14.5px;font-family:'Liberation Sans',sans-serif;color:#111;text-align:center;font-weight:bold;"><span style="display:inline-block;transform:scaleX(0.93);transform-origin:center center;">24,7</span></div>
<div class="t" style="left:553.1px;width:1000.0px;top:429.8px;height:16.8px;line-height:16.8px;font-size:14px;font-family:'Liberation Sans',sans-serif;color:#111;text-align:center;"><span style="display:inline-block;transform:scaleX(0.983);transform-origin:center center;">Gewittertage</span></div>
<div class="t" style="left:1103.7px;width:80.0px;top:430.1px;height:17.4px;line-height:17.4px;font-size:14.5px;font-family:'Liberation Sans',sans-serif;color:#111;text-align:center;font-weight:bold;"><span style="display:inline-block;transform:scaleX(0.93);transform-origin:center center;">1</span></div>
<div class="t" style="left:552.7px;width:1000.0px;top:451.5px;height:15.0px;line-height:15.0px;font-size:12.5px;font-family:'Liberation Sans',sans-serif;color:#000;text-align:center;-webkit-text-stroke:0.15px #000;"><span style="display:inline-block;transform:scaleX(1.041);transform-origin:center center;">Mitteltemperatur des</span></div>
<div class="t" style="left:553.7px;width:1000.0px;top:469.8px;height:15.0px;line-height:15.0px;font-size:12.5px;font-family:'Liberation Sans',sans-serif;color:#000;text-align:center;-webkit-text-stroke:0.15px #000;"><span style="display:inline-block;transform:scaleX(0.99);transform-origin:center center;">Monats °C</span></div>
<div class="t" style="left:1103.7px;width:80.0px;top:458.9px;height:18.6px;line-height:18.6px;font-size:15.5px;font-family:'Liberation Serif',serif;color:#111;text-align:center;font-weight:bold;">1,6</div>
<div class="t" style="left:553.2px;width:1000.0px;top:488.5px;height:16.8px;line-height:16.8px;font-size:14px;font-family:'Liberation Sans',sans-serif;color:#111;text-align:center;"><span style="display:inline-block;transform:scaleX(0.966);transform-origin:center center;">Bodenfrosttage</span></div>
<div class="t" style="left:1103.7px;width:80.0px;top:488.7px;height:17.4px;line-height:17.4px;font-size:14.5px;font-family:'Liberation Sans',sans-serif;color:#111;text-align:center;font-weight:bold;"><span style="display:inline-block;transform:scaleX(0.93);transform-origin:center center;">18</span></div>
<div class="t" style="left:574.2px;width:1000.0px;top:509.8px;height:15.0px;line-height:15.0px;font-size:12.5px;font-family:'Liberation Sans',sans-serif;color:#111;text-align:center;"><span style="display:inline-block;transform:scaleX(1.019);transform-origin:center center;">Min-Temperatur i. 5 cm Höhe</span></div>
<div class="t" style="left:553.7px;width:1000.0px;top:531.3px;height:15.0px;line-height:15.0px;font-size:12.5px;font-family:'Liberation Sans',sans-serif;color:#111;text-align:center;"><span style="display:inline-block;transform:scaleX(1.015);transform-origin:center center;">Niederschlag - Monat</span></div>
<div class="t" style="left:1103.7px;width:80.0px;top:529.9px;height:17.4px;line-height:17.4px;font-size:14.5px;font-family:'Liberation Sans',sans-serif;color:#111;text-align:center;font-weight:bold;"><span style="display:inline-block;transform:scaleX(0.93);transform-origin:center center;">71,3</span></div>
<div class="t" style="left:553.5px;width:1000.0px;top:554.1px;height:15.0px;line-height:15.0px;font-size:12.5px;font-family:'Liberation Sans',sans-serif;color:#111;text-align:center;"><span style="display:inline-block;transform:scaleX(1.011);transform-origin:center center;">Höchste-Temperatur</span></div>
<div class="t" style="left:1103.7px;width:80.0px;top:551.7px;height:17.4px;line-height:17.4px;font-size:14.5px;font-family:'Liberation Sans',sans-serif;color:#111;text-align:center;font-weight:bold;"><span style="display:inline-block;transform:scaleX(0.93);transform-origin:center center;">14,1</span></div>
<div class="t" style="left:553.3px;width:1000.0px;top:575.3px;height:15.0px;line-height:15.0px;font-size:12.5px;font-family:'Liberation Sans',sans-serif;color:#111;text-align:center;"><span style="display:inline-block;transform:scaleX(1.024);transform-origin:center center;">Niedrigste-Temperatur</span></div>
<div class="t" style="left:1103.7px;width:80.0px;top:572.9px;height:17.4px;line-height:17.4px;font-size:14.5px;font-family:'Liberation Sans',sans-serif;color:#111;text-align:center;font-weight:bold;"><span style="display:inline-block;transform:scaleX(0.93);transform-origin:center center;">-11,2</span></div>
<div class="t" style="left:553.3px;width:1000.0px;top:593.1px;height:17.4px;line-height:17.4px;font-size:14.5px;font-family:'Liberation Sans',sans-serif;color:#111;text-align:center;"><span style="display:inline-block;transform:scaleX(0.945);transform-origin:center center;">Tagesmittel</span></div>
<div class="t" style="left:1103.7px;width:80.0px;top:594.3px;height:17.4px;line-height:17.4px;font-size:14.5px;font-family:'Liberation Sans',sans-serif;color:#111;text-align:center;font-weight:bold;"><span style="display:inline-block;transform:scaleX(0.93);transform-origin:center center;">1,6</span></div>
<div class="t" style="left:553.2px;width:1000.0px;top:615.3px;height:16.2px;line-height:16.2px;font-size:13.5px;font-family:'Liberation Sans',sans-serif;color:#111;text-align:center;"><span style="display:inline-block;transform:scaleX(0.996);transform-origin:center center;">Kältesumme</span></div>
<div class="t" style="left:1103.7px;width:80.0px;top:615.5px;height:17.4px;line-height:17.4px;font-size:14.5px;font-family:'Liberation Sans',sans-serif;color:#111;text-align:center;font-weight:bold;"><span style="display:inline-block;transform:scaleX(0.93);transform-origin:center center;">-30,4</span></div>
<div class="t" style="left:554.0px;width:1000.0px;top:637.0px;height:16.2px;line-height:16.2px;font-size:13.5px;font-family:'Liberation Sans',sans-serif;color:#111;text-align:center;"><span style="display:inline-block;transform:scaleX(1.025);transform-origin:center center;">Min-Bodentemp.</span></div>
<div class="t" style="left:1103.7px;width:80.0px;top:637.1px;height:17.4px;line-height:17.4px;font-size:14.5px;font-family:'Liberation Sans',sans-serif;color:#111;text-align:center;font-weight:bold;"><span style="display:inline-block;transform:scaleX(0.93);transform-origin:center center;">-11,6</span></div>
<div class="t" style="left:553.8px;width:1000.0px;top:659.6px;height:14.4px;line-height:14.4px;font-size:12px;font-family:'Liberation Sans',sans-serif;color:#111;text-align:center;font-weight:bold;"><span style="display:inline-block;transform:scaleX(1.048);transform-origin:center center;">Mittel 1961-1990 in °C</span></div>
<div class="t" style="left:1103.7px;width:80.0px;top:658.6px;height:18.0px;line-height:18.0px;font-size:15px;font-family:'Liberation Serif',serif;color:#111;text-align:center;">-0,6</div>
<div class="t" style="left:553.3px;width:1000.0px;top:679.4px;height:16.2px;line-height:16.2px;font-size:13.5px;font-family:'Liberation Sans',sans-serif;color:#111;text-align:center;"><span style="display:inline-block;transform:scaleX(0.978);transform-origin:center center;">Abweichung in °C</span></div>
<div class="t" style="left:1103.7px;width:80.0px;top:679.0px;height:18.0px;line-height:18.0px;font-size:15px;font-family:'Liberation Serif',serif;color:#f00;text-align:center;font-weight:bold;">2,2</div>
<div class="t" style="left:1103.7px;width:80.0px;top:701.9px;height:16.8px;line-height:16.8px;font-size:14px;font-family:'Liberation Serif',serif;color:#111;text-align:center;font-weight:bold;">Max</div>
<div class="t" style="left:551.1px;width:1000.0px;top:721.9px;height:16.2px;line-height:16.2px;font-size:13.5px;font-family:'Liberation Sans',sans-serif;color:#111;text-align:center;"><span style="display:inline-block;transform:scaleX(0.931);transform-origin:center center;">Schneedecke</span></div>
<div class="t" style="left:1103.7px;width:80.0px;top:721.9px;height:17.4px;line-height:17.4px;font-size:14.5px;font-family:'Liberation Sans',sans-serif;color:#111;text-align:center;font-weight:bold;"><span style="display:inline-block;transform:scaleX(0.93);transform-origin:center center;">7</span></div>
<div class="t" style="left:553.2px;width:1000.0px;top:743.6px;height:16.2px;line-height:16.2px;font-size:13.5px;font-family:'Liberation Sans',sans-serif;color:#111;text-align:center;"><span style="display:inline-block;transform:scaleX(0.965);transform-origin:center center;">Neuschneehöhe</span></div>
<div class="t" style="left:1103.7px;width:80.0px;top:743.5px;height:17.4px;line-height:17.4px;font-size:14.5px;font-family:'Liberation Sans',sans-serif;color:#111;text-align:center;font-weight:bold;"><span style="display:inline-block;transform:scaleX(0.93);transform-origin:center center;">7</span></div>
</div>
</body></html>
